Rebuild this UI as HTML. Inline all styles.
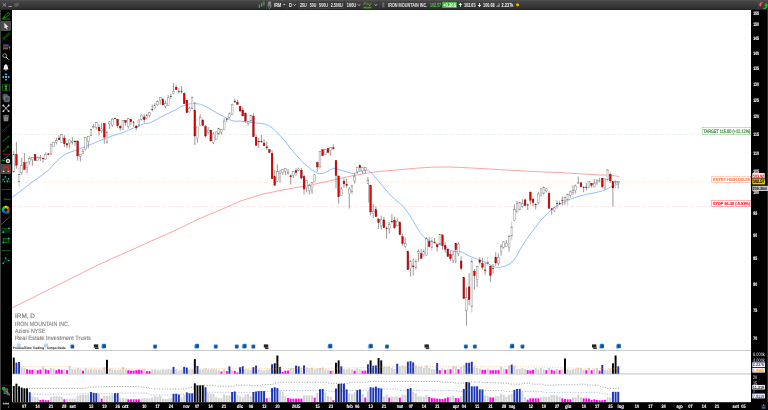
<!DOCTYPE html>
<html lang="it"><head><meta charset="utf-8"><title>IRM, D - IRON MOUNTAIN INC.</title>
<style>html,body{margin:0;padding:0;background:#fff;width:768px;height:410px;overflow:hidden}svg{display:block;position:absolute;left:0;top:0;will-change:transform;opacity:0.999}text{font-family:"Liberation Sans",sans-serif;white-space:pre;text-rendering:geometricPrecision}</style></head>
<body>
<svg width="768" height="410" viewBox="0 0 768 410" font-family='"Liberation Sans", sans-serif'>
<defs><linearGradient id="tb" x1="0" y1="0" x2="0" y2="1"><stop offset="0" stop-color="#545454"/><stop offset="0.14" stop-color="#444"/><stop offset="0.85" stop-color="#2f2f2f"/><stop offset="1" stop-color="#262626"/></linearGradient><linearGradient id="ic" x1="0" y1="0" x2="1" y2="1"><stop offset="0" stop-color="#2f92dc"/><stop offset="1" stop-color="#0a4596"/></linearGradient></defs>
<rect width="768" height="410" fill="#fff"/>
<line x1="12" x2="751" y1="134.4" y2="134.4" stroke="#d6ecd6" stroke-width="0.55" stroke-dasharray="4,2"/>
<line x1="12" x2="751" y1="182.4" y2="182.4" stroke="#ffe0d2" stroke-width="0.55" stroke-dasharray="4,2"/>
<line x1="12" x2="751" y1="206.5" y2="206.5" stroke="#ffd4d4" stroke-width="0.55" stroke-dasharray="4,2"/>
<path d="M12.0,307.9 L32.0,298.0 L53.7,287.1 L75.0,276.5 L95.3,266.2 L116.0,256.8 L137.0,247.5 L158.0,238.0 L178.7,228.8 L199.5,218.6 L220.3,210.0 L241.2,200.8 L262.0,194.2 L282.8,190.0 L303.7,186.2 L320.0,183.0 L335.6,179.5 L351.2,176.0 L366.9,173.2 L380.0,171.3 L396.5,170.0 L415.0,168.3 L432.9,167.1 L451.1,167.0 L469.4,167.9 L488.0,168.9 L505.8,170.0 L524.0,171.0 L542.3,171.9 L560.0,172.6 L578.7,173.7 L597.0,174.8 L610.0,175.3 L616.5,176.0 L619.1,176.8" fill="none" stroke="#ff6464" stroke-width="0.6" stroke-linejoin="round" />
<path d="M12.0,197.4 L20.0,191.5 L32.3,182.0 L40.0,176.6 L47.9,170.7 L55.0,163.0 L62.0,156.5 L67.0,153.3 L72.0,151.6 L77.8,149.6 L84.0,147.2 L91.2,144.2 L97.0,141.8 L103.8,139.1 L110.0,136.6 L116.9,134.4 L120.0,133.6 L125.0,131.5 L130.0,129.7 L135.6,127.1 L140.0,125.3 L144.8,123.6 L149.7,123.0 L155.0,120.3 L160.6,117.0 L166.0,114.5 L171.0,112.0 L176.2,109.6 L180.7,106.8 L185.5,105.0 L189.0,104.0 L192.5,103.4 L195.7,103.6 L200.3,104.2 L205.0,106.1 L211.2,109.7 L217.0,113.0 L223.8,116.7 L229.0,119.5 L233.1,121.0 L237.0,121.2 L240.0,121.0 L247.6,122.1 L254.0,122.7 L259.3,123.3 L264.0,123.9 L268.9,125.4 L273.0,128.6 L279.0,134.4 L284.1,140.0 L288.0,145.0 L291.6,150.0 L293.5,151.7 L298.0,157.0 L302.9,162.7 L305.0,164.3 L308.9,167.5 L312.0,170.0 L315.4,172.0 L318.0,173.4 L321.0,173.5 L324.0,173.2 L328.0,171.3 L333.3,168.3 L337.0,169.2 L343.5,170.9 L348.0,172.3 L352.9,173.6 L357.0,172.6 L360.7,171.0 L364.0,170.0 L366.9,169.7 L370.0,171.7 L373.1,174.8 L376.5,178.6 L380.0,183.0 L385.0,189.0 L391.3,196.0 L397.0,201.0 L403.0,206.2 L407.0,211.5 L410.9,217.1 L414.0,222.5 L417.1,228.0 L420.0,232.3 L423.1,236.4 L426.5,239.2 L430.0,241.0 L436.0,243.4 L442.2,245.4 L446.0,247.0 L450.7,250.7 L455.0,251.3 L460.8,251.6 L465.0,253.7 L469.4,256.1 L475.0,258.3 L480.4,260.2 L484.0,261.8 L488.2,263.7 L491.0,265.4 L494.4,267.0 L497.5,267.3 L500.7,267.2 L504.9,266.1 L509.0,264.3 L513.0,261.3 L517.0,255.5 L521.0,247.9 L525.0,241.8 L529.1,235.8 L533.0,230.4 L537.1,225.0 L541.0,220.2 L545.2,215.6 L550.5,210.5 L555.0,206.9 L561.3,203.3 L566.0,201.2 L572.0,198.4 L580.0,196.0 L588.1,194.0 L595.0,192.7 L601.5,191.2 L606.0,189.4 L609.6,187.6 L613.0,186.0 L617.6,184.2 L619.1,183.7" fill="none" stroke="#5b9bff" stroke-width="0.65" stroke-linejoin="round" />
<line x1="368.63" x2="368.63" y1="183.5" y2="202.5" stroke="#b2b2b2" stroke-width="1"/>
<g id="candles">
<line x1="13.75" x2="13.75" y1="150.80" y2="172.60" stroke="#555" stroke-width="0.6"/>
<rect x="12.83" y="154.70" width="1.84" height="17.20" fill="#fff" stroke="#5a5a5a" stroke-width="0.34"/>
<line x1="16.41" x2="16.41" y1="142.00" y2="168.40" stroke="#555" stroke-width="0.6"/>
<rect x="15.53" y="154.50" width="1.76" height="10.70" fill="#e40000" stroke="#7a0000" stroke-width="0.34"/>
<line x1="19.08" x2="19.08" y1="166.60" y2="187.30" stroke="#bdbdbd" stroke-width="0.8"/>
<rect x="18.20" y="174.50" width="1.76" height="7.00" fill="#e2e2e2" stroke="#a0a0a0" stroke-width="0.26"/>
<line x1="18.13" x2="20.03" y1="174.50" y2="174.50" stroke="#444" stroke-width="0.5"/>
<line x1="18.13" x2="20.03" y1="181.50" y2="181.50" stroke="#444" stroke-width="0.5"/>
<line x1="21.74" x2="21.74" y1="157.80" y2="175.00" stroke="#555" stroke-width="0.6"/>
<rect x="20.82" y="165.60" width="1.84" height="6.70" fill="#fff" stroke="#5a5a5a" stroke-width="0.34"/>
<line x1="24.40" x2="24.40" y1="153.10" y2="169.80" stroke="#555" stroke-width="0.6"/>
<rect x="23.52" y="162.50" width="1.76" height="7.00" fill="#e40000" stroke="#7a0000" stroke-width="0.34"/>
<line x1="27.06" x2="27.06" y1="161.80" y2="173.40" stroke="#555" stroke-width="0.6"/>
<rect x="26.14" y="162.10" width="1.84" height="5.50" fill="#fff" stroke="#5a5a5a" stroke-width="0.34"/>
<line x1="29.73" x2="29.73" y1="156.20" y2="164.50" stroke="#555" stroke-width="0.6"/>
<rect x="28.81" y="158.40" width="1.84" height="3.30" fill="#fff" stroke="#5a5a5a" stroke-width="0.34"/>
<line x1="32.39" x2="32.39" y1="157.00" y2="165.60" stroke="#555" stroke-width="0.6"/>
<rect x="31.47" y="157.40" width="1.84" height="2.40" fill="#fff" stroke="#5a5a5a" stroke-width="0.34"/>
<line x1="35.05" x2="35.05" y1="153.90" y2="160.80" stroke="#555" stroke-width="0.6"/>
<rect x="34.17" y="154.30" width="1.76" height="6.20" fill="#e40000" stroke="#7a0000" stroke-width="0.34"/>
<line x1="37.72" x2="37.72" y1="156.20" y2="160.80" stroke="#555" stroke-width="0.6"/>
<rect x="36.80" y="157.60" width="1.84" height="2.90" fill="#fff" stroke="#5a5a5a" stroke-width="0.34"/>
<line x1="40.38" x2="40.38" y1="155.00" y2="160.90" stroke="#555" stroke-width="0.6"/>
<rect x="39.46" y="157.60" width="1.84" height="0.70" fill="#fff" stroke="#5a5a5a" stroke-width="0.34"/>
<line x1="43.04" x2="43.04" y1="157.60" y2="162.50" stroke="#555" stroke-width="0.6"/>
<rect x="42.09" y="158.00" width="1.9" height="1.00" fill="#b00000"/>
<line x1="45.71" x2="45.71" y1="152.40" y2="159.70" stroke="#555" stroke-width="0.6"/>
<rect x="44.79" y="154.30" width="1.84" height="5.10" fill="#fff" stroke="#5a5a5a" stroke-width="0.34"/>
<line x1="48.37" x2="48.37" y1="153.20" y2="155.20" stroke="#555" stroke-width="0.6"/>
<rect x="47.42" y="153.50" width="1.9" height="1.30" fill="#b00000"/>
<line x1="51.03" x2="51.03" y1="143.80" y2="155.00" stroke="#555" stroke-width="0.6"/>
<rect x="50.11" y="144.10" width="1.84" height="9.80" fill="#fff" stroke="#5a5a5a" stroke-width="0.34"/>
<line x1="53.70" x2="53.70" y1="141.80" y2="146.80" stroke="#555" stroke-width="0.6"/>
<rect x="52.77" y="142.20" width="1.84" height="4.30" fill="#fff" stroke="#5a5a5a" stroke-width="0.34"/>
<line x1="56.36" x2="56.36" y1="137.50" y2="144.50" stroke="#555" stroke-width="0.6"/>
<rect x="55.44" y="140.60" width="1.84" height="1.90" fill="#fff" stroke="#5a5a5a" stroke-width="0.34"/>
<line x1="59.02" x2="59.02" y1="135.10" y2="140.00" stroke="#555" stroke-width="0.6"/>
<rect x="58.14" y="138.10" width="1.76" height="1.70" fill="#e40000" stroke="#7a0000" stroke-width="0.34"/>
<line x1="61.68" x2="61.68" y1="134.00" y2="142.70" stroke="#555" stroke-width="0.6"/>
<rect x="60.76" y="134.70" width="1.84" height="7.70" fill="#fff" stroke="#5a5a5a" stroke-width="0.34"/>
<line x1="64.35" x2="64.35" y1="135.10" y2="146.90" stroke="#555" stroke-width="0.6"/>
<rect x="63.47" y="138.00" width="1.76" height="5.80" fill="#e40000" stroke="#7a0000" stroke-width="0.34"/>
<line x1="67.01" x2="67.01" y1="143.50" y2="148.00" stroke="#555" stroke-width="0.6"/>
<rect x="66.13" y="143.80" width="1.76" height="1.20" fill="#e40000" stroke="#7a0000" stroke-width="0.34"/>
<line x1="69.67" x2="69.67" y1="139.70" y2="148.60" stroke="#555" stroke-width="0.6"/>
<rect x="68.75" y="140.00" width="1.84" height="3.10" fill="#fff" stroke="#5a5a5a" stroke-width="0.34"/>
<line x1="72.34" x2="72.34" y1="137.10" y2="144.50" stroke="#555" stroke-width="0.6"/>
<rect x="71.42" y="141.40" width="1.84" height="0.80" fill="#fff" stroke="#5a5a5a" stroke-width="0.34"/>
<line x1="75.00" x2="75.00" y1="139.90" y2="145.50" stroke="#555" stroke-width="0.6"/>
<rect x="74.05" y="141.00" width="1.9" height="0.80" fill="#111"/>
<line x1="77.66" x2="77.66" y1="140.50" y2="160.60" stroke="#555" stroke-width="0.6"/>
<rect x="76.78" y="141.00" width="1.76" height="14.90" fill="#e40000" stroke="#7a0000" stroke-width="0.34"/>
<line x1="80.32" x2="80.32" y1="154.00" y2="161.70" stroke="#555" stroke-width="0.6"/>
<rect x="79.40" y="154.30" width="1.84" height="2.00" fill="#fff" stroke="#5a5a5a" stroke-width="0.34"/>
<line x1="82.99" x2="82.99" y1="148.80" y2="153.90" stroke="#555" stroke-width="0.6"/>
<rect x="82.07" y="151.20" width="1.84" height="2.30" fill="#fff" stroke="#5a5a5a" stroke-width="0.34"/>
<line x1="85.65" x2="85.65" y1="137.10" y2="150.40" stroke="#555" stroke-width="0.6"/>
<rect x="84.73" y="137.30" width="1.84" height="12.30" fill="#fff" stroke="#5a5a5a" stroke-width="0.34"/>
<line x1="88.31" x2="88.31" y1="136.00" y2="148.50" stroke="#555" stroke-width="0.6"/>
<rect x="87.39" y="136.30" width="1.84" height="5.40" fill="#fff" stroke="#5a5a5a" stroke-width="0.34"/>
<line x1="90.98" x2="90.98" y1="129.00" y2="135.90" stroke="#bdbdbd" stroke-width="0.8"/>
<rect x="90.10" y="129.30" width="1.76" height="6.30" fill="#e2e2e2" stroke="#a0a0a0" stroke-width="0.26"/>
<line x1="90.03" x2="91.93" y1="129.30" y2="129.30" stroke="#444" stroke-width="0.5"/>
<line x1="90.03" x2="91.93" y1="135.60" y2="135.60" stroke="#444" stroke-width="0.5"/>
<line x1="93.64" x2="93.64" y1="123.90" y2="128.50" stroke="#555" stroke-width="0.6"/>
<rect x="92.72" y="126.60" width="1.84" height="0.80" fill="#fff" stroke="#5a5a5a" stroke-width="0.34"/>
<line x1="96.30" x2="96.30" y1="121.90" y2="129.70" stroke="#555" stroke-width="0.6"/>
<rect x="95.38" y="122.70" width="1.84" height="4.70" fill="#fff" stroke="#5a5a5a" stroke-width="0.34"/>
<line x1="98.97" x2="98.97" y1="124.60" y2="135.60" stroke="#555" stroke-width="0.6"/>
<rect x="98.09" y="127.20" width="1.76" height="3.70" fill="#e40000" stroke="#7a0000" stroke-width="0.34"/>
<line x1="101.63" x2="101.63" y1="122.70" y2="132.80" stroke="#555" stroke-width="0.6"/>
<rect x="100.71" y="128.90" width="1.84" height="2.00" fill="#fff" stroke="#5a5a5a" stroke-width="0.34"/>
<line x1="104.29" x2="104.29" y1="123.20" y2="143.80" stroke="#555" stroke-width="0.6"/>
<rect x="103.41" y="123.50" width="1.76" height="13.60" fill="#e40000" stroke="#7a0000" stroke-width="0.34"/>
<line x1="106.95" x2="106.95" y1="131.80" y2="143.80" stroke="#bdbdbd" stroke-width="0.8"/>
<rect x="106.08" y="132.10" width="1.76" height="10.10" fill="#e2e2e2" stroke="#a0a0a0" stroke-width="0.26"/>
<line x1="106.00" x2="107.91" y1="132.10" y2="132.10" stroke="#444" stroke-width="0.5"/>
<line x1="106.00" x2="107.91" y1="142.20" y2="142.20" stroke="#444" stroke-width="0.5"/>
<line x1="109.62" x2="109.62" y1="121.10" y2="128.90" stroke="#555" stroke-width="0.6"/>
<rect x="108.70" y="121.90" width="1.84" height="2.00" fill="#fff" stroke="#5a5a5a" stroke-width="0.34"/>
<line x1="112.28" x2="112.28" y1="118.00" y2="127.00" stroke="#555" stroke-width="0.6"/>
<rect x="111.36" y="119.20" width="1.84" height="5.80" fill="#fff" stroke="#5a5a5a" stroke-width="0.34"/>
<line x1="114.94" x2="114.94" y1="117.50" y2="119.20" stroke="#555" stroke-width="0.6"/>
<rect x="113.99" y="118.00" width="1.9" height="0.80" fill="#b00000"/>
<line x1="117.61" x2="117.61" y1="119.00" y2="128.20" stroke="#555" stroke-width="0.6"/>
<rect x="116.73" y="119.20" width="1.76" height="6.60" fill="#e40000" stroke="#7a0000" stroke-width="0.34"/>
<line x1="120.27" x2="120.27" y1="125.00" y2="130.60" stroke="#555" stroke-width="0.6"/>
<rect x="119.39" y="126.30" width="1.76" height="1.70" fill="#e40000" stroke="#7a0000" stroke-width="0.34"/>
<line x1="122.93" x2="122.93" y1="120.00" y2="130.20" stroke="#555" stroke-width="0.6"/>
<rect x="122.01" y="120.40" width="1.84" height="9.20" fill="#fff" stroke="#5a5a5a" stroke-width="0.34"/>
<line x1="125.60" x2="125.60" y1="120.00" y2="125.60" stroke="#555" stroke-width="0.6"/>
<rect x="124.72" y="120.40" width="1.76" height="2.00" fill="#e40000" stroke="#7a0000" stroke-width="0.34"/>
<line x1="128.26" x2="128.26" y1="118.20" y2="128.50" stroke="#555" stroke-width="0.6"/>
<rect x="127.34" y="118.50" width="1.84" height="8.10" fill="#fff" stroke="#5a5a5a" stroke-width="0.34"/>
<line x1="130.92" x2="130.92" y1="119.30" y2="124.80" stroke="#555" stroke-width="0.6"/>
<rect x="130.04" y="119.50" width="1.76" height="2.30" fill="#e40000" stroke="#7a0000" stroke-width="0.34"/>
<line x1="133.58" x2="133.58" y1="120.90" y2="126.80" stroke="#555" stroke-width="0.6"/>
<rect x="133.08" y="122.00" width="1.0" height="1.60" fill="#fff" stroke="#333" stroke-width="0.4"/>
<line x1="136.25" x2="136.25" y1="124.80" y2="130.30" stroke="#555" stroke-width="0.6"/>
<rect x="135.37" y="126.10" width="1.76" height="1.80" fill="#e40000" stroke="#7a0000" stroke-width="0.34"/>
<line x1="138.91" x2="138.91" y1="119.30" y2="127.10" stroke="#555" stroke-width="0.6"/>
<rect x="137.99" y="120.00" width="1.84" height="4.80" fill="#fff" stroke="#5a5a5a" stroke-width="0.34"/>
<line x1="141.57" x2="141.57" y1="114.30" y2="120.50" stroke="#555" stroke-width="0.6"/>
<rect x="140.65" y="115.00" width="1.84" height="4.30" fill="#fff" stroke="#5a5a5a" stroke-width="0.34"/>
<line x1="144.24" x2="144.24" y1="114.30" y2="122.70" stroke="#555" stroke-width="0.6"/>
<rect x="143.36" y="117.00" width="1.76" height="2.70" fill="#e40000" stroke="#7a0000" stroke-width="0.34"/>
<line x1="146.90" x2="146.90" y1="113.90" y2="118.60" stroke="#555" stroke-width="0.6"/>
<rect x="145.98" y="115.00" width="1.84" height="3.20" fill="#fff" stroke="#5a5a5a" stroke-width="0.34"/>
<line x1="149.56" x2="149.56" y1="112.00" y2="117.40" stroke="#555" stroke-width="0.6"/>
<rect x="148.64" y="112.40" width="1.84" height="3.20" fill="#fff" stroke="#5a5a5a" stroke-width="0.34"/>
<line x1="152.23" x2="152.23" y1="104.50" y2="111.50" stroke="#555" stroke-width="0.6"/>
<rect x="151.28" y="109.00" width="1.9" height="0.80" fill="#b00000"/>
<line x1="154.89" x2="154.89" y1="102.90" y2="109.20" stroke="#555" stroke-width="0.6"/>
<rect x="153.97" y="105.30" width="1.84" height="3.50" fill="#fff" stroke="#5a5a5a" stroke-width="0.34"/>
<line x1="157.55" x2="157.55" y1="100.20" y2="105.70" stroke="#555" stroke-width="0.6"/>
<rect x="156.63" y="101.40" width="1.84" height="3.50" fill="#fff" stroke="#5a5a5a" stroke-width="0.34"/>
<line x1="160.22" x2="160.22" y1="97.10" y2="104.50" stroke="#555" stroke-width="0.6"/>
<rect x="159.30" y="97.50" width="1.84" height="3.10" fill="#fff" stroke="#5a5a5a" stroke-width="0.34"/>
<line x1="162.88" x2="162.88" y1="97.90" y2="105.30" stroke="#555" stroke-width="0.6"/>
<rect x="162.00" y="99.80" width="1.76" height="5.10" fill="#e40000" stroke="#7a0000" stroke-width="0.34"/>
<line x1="165.54" x2="165.54" y1="100.60" y2="108.40" stroke="#555" stroke-width="0.6"/>
<rect x="164.62" y="103.70" width="1.84" height="2.80" fill="#fff" stroke="#5a5a5a" stroke-width="0.34"/>
<line x1="168.20" x2="168.20" y1="95.00" y2="105.80" stroke="#555" stroke-width="0.6"/>
<rect x="167.28" y="97.90" width="1.84" height="7.60" fill="#fff" stroke="#5a5a5a" stroke-width="0.34"/>
<line x1="170.87" x2="170.87" y1="93.40" y2="98.90" stroke="#555" stroke-width="0.6"/>
<rect x="169.92" y="96.20" width="1.9" height="0.60" fill="#111"/>
<line x1="173.53" x2="173.53" y1="83.10" y2="93.90" stroke="#555" stroke-width="0.6"/>
<rect x="172.61" y="91.30" width="1.84" height="2.30" fill="#fff" stroke="#5a5a5a" stroke-width="0.34"/>
<line x1="176.19" x2="176.19" y1="85.00" y2="90.00" stroke="#555" stroke-width="0.6"/>
<rect x="175.31" y="87.20" width="1.76" height="2.50" fill="#e40000" stroke="#7a0000" stroke-width="0.34"/>
<line x1="178.86" x2="178.86" y1="88.20" y2="93.60" stroke="#555" stroke-width="0.6"/>
<rect x="177.91" y="91.10" width="1.9" height="0.60" fill="#111"/>
<line x1="181.52" x2="181.52" y1="86.20" y2="93.60" stroke="#555" stroke-width="0.6"/>
<rect x="180.57" y="91.20" width="1.9" height="0.60" fill="#111"/>
<line x1="184.18" x2="184.18" y1="92.40" y2="104.00" stroke="#555" stroke-width="0.6"/>
<rect x="183.30" y="93.30" width="1.76" height="10.50" fill="#e40000" stroke="#7a0000" stroke-width="0.34"/>
<line x1="186.84" x2="186.84" y1="100.00" y2="113.00" stroke="#555" stroke-width="0.6"/>
<rect x="185.97" y="100.30" width="1.76" height="12.50" fill="#e40000" stroke="#7a0000" stroke-width="0.34"/>
<line x1="189.51" x2="189.51" y1="106.90" y2="112.30" stroke="#555" stroke-width="0.6"/>
<rect x="188.59" y="108.10" width="1.84" height="3.90" fill="#fff" stroke="#5a5a5a" stroke-width="0.34"/>
<line x1="192.17" x2="192.17" y1="96.90" y2="108.50" stroke="#bdbdbd" stroke-width="0.8"/>
<rect x="191.29" y="97.20" width="1.76" height="11.10" fill="#e2e2e2" stroke="#a0a0a0" stroke-width="0.26"/>
<line x1="191.22" x2="193.12" y1="97.20" y2="97.20" stroke="#444" stroke-width="0.5"/>
<line x1="191.22" x2="193.12" y1="108.30" y2="108.30" stroke="#444" stroke-width="0.5"/>
<line x1="194.83" x2="194.83" y1="101.90" y2="145.00" stroke="#555" stroke-width="0.6"/>
<rect x="193.95" y="110.50" width="1.76" height="25.50" fill="#e40000" stroke="#7a0000" stroke-width="0.34"/>
<line x1="197.50" x2="197.50" y1="126.70" y2="142.60" stroke="#555" stroke-width="0.6"/>
<rect x="196.58" y="127.00" width="1.84" height="11.70" fill="#fff" stroke="#5a5a5a" stroke-width="0.34"/>
<line x1="200.16" x2="200.16" y1="114.40" y2="125.90" stroke="#555" stroke-width="0.6"/>
<rect x="199.24" y="117.50" width="1.84" height="8.10" fill="#fff" stroke="#5a5a5a" stroke-width="0.34"/>
<line x1="202.82" x2="202.82" y1="118.70" y2="125.80" stroke="#555" stroke-width="0.6"/>
<rect x="201.94" y="120.20" width="1.76" height="5.30" fill="#e40000" stroke="#7a0000" stroke-width="0.34"/>
<line x1="205.49" x2="205.49" y1="125.00" y2="137.50" stroke="#555" stroke-width="0.6"/>
<rect x="204.61" y="126.70" width="1.76" height="9.30" fill="#e40000" stroke="#7a0000" stroke-width="0.34"/>
<line x1="208.15" x2="208.15" y1="127.00" y2="134.40" stroke="#555" stroke-width="0.6"/>
<rect x="207.23" y="130.10" width="1.84" height="2.40" fill="#fff" stroke="#5a5a5a" stroke-width="0.34"/>
<line x1="210.81" x2="210.81" y1="129.80" y2="141.30" stroke="#555" stroke-width="0.6"/>
<rect x="209.93" y="130.10" width="1.76" height="10.90" fill="#e40000" stroke="#7a0000" stroke-width="0.34"/>
<line x1="213.47" x2="213.47" y1="132.00" y2="144.20" stroke="#555" stroke-width="0.6"/>
<rect x="212.56" y="134.00" width="1.84" height="8.60" fill="#fff" stroke="#5a5a5a" stroke-width="0.34"/>
<line x1="216.14" x2="216.14" y1="131.70" y2="139.80" stroke="#555" stroke-width="0.6"/>
<rect x="215.22" y="132.00" width="1.84" height="7.50" fill="#fff" stroke="#5a5a5a" stroke-width="0.34"/>
<line x1="218.80" x2="218.80" y1="127.80" y2="134.30" stroke="#555" stroke-width="0.6"/>
<rect x="217.88" y="128.50" width="1.84" height="5.50" fill="#fff" stroke="#5a5a5a" stroke-width="0.34"/>
<line x1="221.46" x2="221.46" y1="129.40" y2="134.80" stroke="#555" stroke-width="0.6"/>
<rect x="220.54" y="129.70" width="1.84" height="2.80" fill="#fff" stroke="#5a5a5a" stroke-width="0.34"/>
<line x1="224.13" x2="224.13" y1="118.20" y2="130.00" stroke="#555" stroke-width="0.6"/>
<rect x="223.21" y="121.10" width="1.84" height="8.60" fill="#fff" stroke="#5a5a5a" stroke-width="0.34"/>
<line x1="226.79" x2="226.79" y1="118.00" y2="122.00" stroke="#555" stroke-width="0.6"/>
<rect x="225.84" y="118.80" width="1.9" height="0.60" fill="#111"/>
<line x1="229.45" x2="229.45" y1="112.40" y2="118.70" stroke="#555" stroke-width="0.6"/>
<rect x="228.53" y="114.00" width="1.84" height="3.50" fill="#fff" stroke="#5a5a5a" stroke-width="0.34"/>
<line x1="232.12" x2="232.12" y1="103.90" y2="114.70" stroke="#555" stroke-width="0.6"/>
<rect x="231.20" y="104.20" width="1.84" height="10.20" fill="#fff" stroke="#5a5a5a" stroke-width="0.34"/>
<line x1="234.78" x2="234.78" y1="98.50" y2="102.40" stroke="#555" stroke-width="0.6"/>
<rect x="233.83" y="100.90" width="1.9" height="1.30" fill="#b00000"/>
<line x1="237.44" x2="237.44" y1="99.50" y2="104.70" stroke="#555" stroke-width="0.6"/>
<rect x="236.56" y="102.20" width="1.76" height="2.20" fill="#e40000" stroke="#7a0000" stroke-width="0.34"/>
<line x1="240.10" x2="240.10" y1="106.00" y2="112.40" stroke="#555" stroke-width="0.6"/>
<rect x="239.22" y="106.30" width="1.76" height="4.70" fill="#e40000" stroke="#7a0000" stroke-width="0.34"/>
<line x1="242.77" x2="242.77" y1="107.30" y2="116.10" stroke="#555" stroke-width="0.6"/>
<rect x="241.89" y="110.00" width="1.76" height="5.90" fill="#e40000" stroke="#7a0000" stroke-width="0.34"/>
<line x1="245.43" x2="245.43" y1="112.40" y2="122.90" stroke="#555" stroke-width="0.6"/>
<rect x="244.55" y="113.10" width="1.76" height="7.90" fill="#e40000" stroke="#7a0000" stroke-width="0.34"/>
<line x1="248.09" x2="248.09" y1="121.00" y2="125.80" stroke="#555" stroke-width="0.6"/>
<rect x="247.17" y="121.60" width="1.84" height="1.80" fill="#fff" stroke="#5a5a5a" stroke-width="0.34"/>
<line x1="250.76" x2="250.76" y1="115.20" y2="121.30" stroke="#bdbdbd" stroke-width="0.8"/>
<rect x="249.88" y="115.50" width="1.76" height="5.50" fill="#e2e2e2" stroke="#a0a0a0" stroke-width="0.26"/>
<line x1="249.81" x2="251.71" y1="115.50" y2="115.50" stroke="#444" stroke-width="0.5"/>
<line x1="249.81" x2="251.71" y1="121.00" y2="121.00" stroke="#444" stroke-width="0.5"/>
<line x1="253.42" x2="253.42" y1="113.10" y2="137.00" stroke="#555" stroke-width="0.6"/>
<rect x="252.54" y="116.30" width="1.76" height="20.50" fill="#e40000" stroke="#7a0000" stroke-width="0.34"/>
<line x1="256.08" x2="256.08" y1="134.40" y2="145.60" stroke="#555" stroke-width="0.6"/>
<rect x="255.20" y="137.10" width="1.76" height="8.30" fill="#e40000" stroke="#7a0000" stroke-width="0.34"/>
<line x1="258.75" x2="258.75" y1="137.90" y2="148.00" stroke="#555" stroke-width="0.6"/>
<rect x="257.80" y="141.00" width="1.9" height="0.80" fill="#111"/>
<line x1="261.41" x2="261.41" y1="134.80" y2="143.00" stroke="#555" stroke-width="0.6"/>
<rect x="260.46" y="141.00" width="1.9" height="0.80" fill="#111"/>
<line x1="264.07" x2="264.07" y1="139.10" y2="146.10" stroke="#555" stroke-width="0.6"/>
<rect x="263.19" y="143.00" width="1.76" height="2.80" fill="#e40000" stroke="#7a0000" stroke-width="0.34"/>
<line x1="266.74" x2="266.74" y1="141.30" y2="149.90" stroke="#555" stroke-width="0.6"/>
<rect x="265.79" y="146.50" width="1.9" height="1.60" fill="#b00000"/>
<line x1="269.40" x2="269.40" y1="149.00" y2="153.50" stroke="#555" stroke-width="0.6"/>
<rect x="268.52" y="149.80" width="1.76" height="2.70" fill="#e40000" stroke="#7a0000" stroke-width="0.34"/>
<line x1="272.06" x2="272.06" y1="150.20" y2="179.00" stroke="#555" stroke-width="0.6"/>
<rect x="271.18" y="153.30" width="1.76" height="25.50" fill="#e40000" stroke="#7a0000" stroke-width="0.34"/>
<line x1="274.72" x2="274.72" y1="170.20" y2="185.70" stroke="#555" stroke-width="0.6"/>
<rect x="273.84" y="176.80" width="1.76" height="8.60" fill="#e40000" stroke="#7a0000" stroke-width="0.34"/>
<line x1="277.39" x2="277.39" y1="164.30" y2="181.80" stroke="#555" stroke-width="0.6"/>
<rect x="276.47" y="171.80" width="1.84" height="9.70" fill="#fff" stroke="#5a5a5a" stroke-width="0.34"/>
<line x1="280.05" x2="280.05" y1="170.50" y2="182.70" stroke="#555" stroke-width="0.6"/>
<rect x="279.13" y="171.00" width="1.84" height="2.70" fill="#fff" stroke="#5a5a5a" stroke-width="0.34"/>
<line x1="282.71" x2="282.71" y1="169.10" y2="175.00" stroke="#555" stroke-width="0.6"/>
<rect x="281.79" y="169.40" width="1.84" height="3.10" fill="#fff" stroke="#5a5a5a" stroke-width="0.34"/>
<line x1="285.38" x2="285.38" y1="168.30" y2="175.30" stroke="#555" stroke-width="0.6"/>
<rect x="284.46" y="168.60" width="1.84" height="2.80" fill="#fff" stroke="#5a5a5a" stroke-width="0.34"/>
<line x1="288.04" x2="288.04" y1="169.00" y2="174.90" stroke="#555" stroke-width="0.6"/>
<rect x="287.12" y="172.50" width="1.84" height="1.20" fill="#fff" stroke="#5a5a5a" stroke-width="0.34"/>
<line x1="290.70" x2="290.70" y1="174.50" y2="184.70" stroke="#555" stroke-width="0.6"/>
<rect x="289.75" y="175.40" width="1.9" height="1.60" fill="#b00000"/>
<line x1="293.36" x2="293.36" y1="171.10" y2="178.00" stroke="#555" stroke-width="0.6"/>
<rect x="292.44" y="171.40" width="1.84" height="3.90" fill="#fff" stroke="#5a5a5a" stroke-width="0.34"/>
<line x1="296.03" x2="296.03" y1="168.25" y2="175.70" stroke="#555" stroke-width="0.6"/>
<rect x="295.15" y="170.75" width="1.76" height="1.75" fill="#e40000" stroke="#7a0000" stroke-width="0.34"/>
<line x1="298.69" x2="298.69" y1="167.50" y2="171.40" stroke="#555" stroke-width="0.6"/>
<rect x="297.77" y="169.00" width="1.84" height="1.20" fill="#fff" stroke="#5a5a5a" stroke-width="0.34"/>
<line x1="301.35" x2="301.35" y1="167.90" y2="179.60" stroke="#555" stroke-width="0.6"/>
<rect x="300.47" y="170.20" width="1.76" height="7.80" fill="#e40000" stroke="#7a0000" stroke-width="0.34"/>
<line x1="304.02" x2="304.02" y1="174.50" y2="194.50" stroke="#555" stroke-width="0.6"/>
<rect x="303.14" y="176.50" width="1.76" height="12.50" fill="#e40000" stroke="#7a0000" stroke-width="0.34"/>
<line x1="306.68" x2="306.68" y1="180.10" y2="192.50" stroke="#555" stroke-width="0.6"/>
<rect x="305.76" y="180.40" width="1.84" height="7.40" fill="#fff" stroke="#5a5a5a" stroke-width="0.34"/>
<line x1="309.34" x2="309.34" y1="183.90" y2="194.50" stroke="#555" stroke-width="0.6"/>
<rect x="308.42" y="185.80" width="1.84" height="4.70" fill="#fff" stroke="#5a5a5a" stroke-width="0.34"/>
<line x1="312.01" x2="312.01" y1="182.40" y2="194.00" stroke="#555" stroke-width="0.6"/>
<rect x="311.09" y="182.70" width="1.84" height="7.80" fill="#fff" stroke="#5a5a5a" stroke-width="0.34"/>
<line x1="314.67" x2="314.67" y1="174.10" y2="181.80" stroke="#555" stroke-width="0.6"/>
<rect x="313.75" y="174.90" width="1.84" height="6.60" fill="#fff" stroke="#5a5a5a" stroke-width="0.34"/>
<line x1="317.33" x2="317.33" y1="161.50" y2="171.70" stroke="#555" stroke-width="0.6"/>
<rect x="316.45" y="162.50" width="1.76" height="4.50" fill="#e40000" stroke="#7a0000" stroke-width="0.34"/>
<line x1="320.00" x2="320.00" y1="151.10" y2="168.40" stroke="#555" stroke-width="0.6"/>
<rect x="319.07" y="151.40" width="1.84" height="14.80" fill="#fff" stroke="#5a5a5a" stroke-width="0.34"/>
<line x1="322.66" x2="322.66" y1="149.40" y2="156.00" stroke="#555" stroke-width="0.6"/>
<rect x="321.78" y="149.80" width="1.76" height="5.90" fill="#e40000" stroke="#7a0000" stroke-width="0.34"/>
<line x1="325.32" x2="325.32" y1="149.10" y2="154.80" stroke="#555" stroke-width="0.6"/>
<rect x="324.40" y="149.40" width="1.84" height="5.10" fill="#fff" stroke="#5a5a5a" stroke-width="0.34"/>
<line x1="327.98" x2="327.98" y1="148.30" y2="152.80" stroke="#555" stroke-width="0.6"/>
<rect x="327.10" y="148.60" width="1.76" height="3.90" fill="#e40000" stroke="#7a0000" stroke-width="0.34"/>
<line x1="330.65" x2="330.65" y1="147.20" y2="155.70" stroke="#555" stroke-width="0.6"/>
<rect x="329.73" y="147.50" width="1.84" height="3.10" fill="#fff" stroke="#5a5a5a" stroke-width="0.34"/>
<line x1="333.31" x2="333.31" y1="144.30" y2="149.80" stroke="#555" stroke-width="0.6"/>
<rect x="332.36" y="147.30" width="1.9" height="1.60" fill="#b00000"/>
<line x1="335.97" x2="335.97" y1="160.00" y2="188.40" stroke="#555" stroke-width="0.6"/>
<rect x="335.09" y="160.70" width="1.76" height="14.90" fill="#e40000" stroke="#7a0000" stroke-width="0.34"/>
<line x1="338.64" x2="338.64" y1="175.50" y2="203.80" stroke="#555" stroke-width="0.6"/>
<rect x="337.76" y="176.00" width="1.76" height="20.80" fill="#e40000" stroke="#7a0000" stroke-width="0.34"/>
<line x1="341.30" x2="341.30" y1="187.00" y2="195.90" stroke="#555" stroke-width="0.6"/>
<rect x="340.38" y="189.00" width="1.84" height="6.60" fill="#fff" stroke="#5a5a5a" stroke-width="0.34"/>
<line x1="343.96" x2="343.96" y1="178.30" y2="187.80" stroke="#555" stroke-width="0.6"/>
<rect x="343.08" y="181.10" width="1.76" height="2.80" fill="#e40000" stroke="#7a0000" stroke-width="0.34"/>
<line x1="346.62" x2="346.62" y1="178.70" y2="187.70" stroke="#555" stroke-width="0.6"/>
<rect x="345.68" y="184.00" width="1.9" height="1.60" fill="#b00000"/>
<line x1="349.29" x2="349.29" y1="187.00" y2="208.50" stroke="#555" stroke-width="0.6"/>
<rect x="348.37" y="189.00" width="1.84" height="4.70" fill="#fff" stroke="#5a5a5a" stroke-width="0.34"/>
<line x1="351.95" x2="351.95" y1="185.60" y2="194.50" stroke="#bdbdbd" stroke-width="0.8"/>
<rect x="351.07" y="185.90" width="1.76" height="5.80" fill="#e2e2e2" stroke="#a0a0a0" stroke-width="0.26"/>
<line x1="351.00" x2="352.90" y1="185.90" y2="185.90" stroke="#444" stroke-width="0.5"/>
<line x1="351.00" x2="352.90" y1="191.70" y2="191.70" stroke="#444" stroke-width="0.5"/>
<line x1="354.61" x2="354.61" y1="173.20" y2="183.70" stroke="#555" stroke-width="0.6"/>
<rect x="353.69" y="176.40" width="1.84" height="4.60" fill="#fff" stroke="#5a5a5a" stroke-width="0.34"/>
<line x1="357.28" x2="357.28" y1="166.50" y2="173.60" stroke="#555" stroke-width="0.6"/>
<rect x="356.36" y="167.20" width="1.84" height="4.30" fill="#fff" stroke="#5a5a5a" stroke-width="0.34"/>
<line x1="359.94" x2="359.94" y1="164.30" y2="171.00" stroke="#555" stroke-width="0.6"/>
<rect x="359.06" y="165.80" width="1.76" height="2.00" fill="#e40000" stroke="#7a0000" stroke-width="0.34"/>
<line x1="362.60" x2="362.60" y1="167.10" y2="174.00" stroke="#555" stroke-width="0.6"/>
<rect x="361.68" y="167.40" width="1.84" height="3.60" fill="#fff" stroke="#5a5a5a" stroke-width="0.34"/>
<line x1="365.27" x2="365.27" y1="167.10" y2="173.60" stroke="#555" stroke-width="0.6"/>
<rect x="364.35" y="167.40" width="1.84" height="2.70" fill="#fff" stroke="#5a5a5a" stroke-width="0.34"/>
<line x1="367.93" x2="367.93" y1="177.10" y2="184.20" stroke="#555" stroke-width="0.6"/>
<rect x="367.01" y="180.70" width="1.84" height="2.60" fill="#fff" stroke="#5a5a5a" stroke-width="0.34"/>
<line x1="370.59" x2="370.59" y1="184.50" y2="215.50" stroke="#555" stroke-width="0.6"/>
<rect x="369.71" y="185.20" width="1.76" height="26.80" fill="#e40000" stroke="#7a0000" stroke-width="0.34"/>
<line x1="373.25" x2="373.25" y1="204.20" y2="217.90" stroke="#555" stroke-width="0.6"/>
<rect x="372.33" y="211.20" width="1.84" height="2.40" fill="#fff" stroke="#5a5a5a" stroke-width="0.34"/>
<line x1="375.92" x2="375.92" y1="206.20" y2="217.00" stroke="#555" stroke-width="0.6"/>
<rect x="375.04" y="209.70" width="1.76" height="7.00" fill="#e40000" stroke="#7a0000" stroke-width="0.34"/>
<line x1="378.58" x2="378.58" y1="218.50" y2="229.00" stroke="#555" stroke-width="0.6"/>
<rect x="377.70" y="219.00" width="1.76" height="3.50" fill="#e40000" stroke="#7a0000" stroke-width="0.34"/>
<line x1="381.24" x2="381.24" y1="215.50" y2="229.70" stroke="#555" stroke-width="0.6"/>
<rect x="380.32" y="220.00" width="1.84" height="6.00" fill="#fff" stroke="#5a5a5a" stroke-width="0.34"/>
<line x1="383.91" x2="383.91" y1="216.70" y2="228.00" stroke="#555" stroke-width="0.6"/>
<rect x="383.03" y="219.90" width="1.76" height="7.90" fill="#e40000" stroke="#7a0000" stroke-width="0.34"/>
<line x1="386.57" x2="386.57" y1="226.60" y2="238.70" stroke="#555" stroke-width="0.6"/>
<rect x="385.62" y="228.00" width="1.9" height="0.80" fill="#b00000"/>
<line x1="389.23" x2="389.23" y1="221.90" y2="233.60" stroke="#555" stroke-width="0.6"/>
<rect x="388.31" y="224.70" width="1.84" height="3.80" fill="#fff" stroke="#5a5a5a" stroke-width="0.34"/>
<line x1="391.90" x2="391.90" y1="214.00" y2="223.40" stroke="#555" stroke-width="0.6"/>
<rect x="390.95" y="221.00" width="1.9" height="0.80" fill="#111"/>
<line x1="394.56" x2="394.56" y1="216.70" y2="229.00" stroke="#555" stroke-width="0.6"/>
<rect x="393.68" y="220.20" width="1.76" height="7.60" fill="#e40000" stroke="#7a0000" stroke-width="0.34"/>
<line x1="397.22" x2="397.22" y1="218.20" y2="226.20" stroke="#555" stroke-width="0.6"/>
<rect x="396.30" y="221.40" width="1.84" height="4.50" fill="#fff" stroke="#5a5a5a" stroke-width="0.34"/>
<line x1="399.88" x2="399.88" y1="221.40" y2="235.00" stroke="#555" stroke-width="0.6"/>
<rect x="399.00" y="222.40" width="1.76" height="12.40" fill="#e40000" stroke="#7a0000" stroke-width="0.34"/>
<line x1="402.55" x2="402.55" y1="233.60" y2="245.70" stroke="#555" stroke-width="0.6"/>
<rect x="401.67" y="236.80" width="1.76" height="6.80" fill="#e40000" stroke="#7a0000" stroke-width="0.34"/>
<line x1="405.21" x2="405.21" y1="237.50" y2="248.50" stroke="#555" stroke-width="0.6"/>
<rect x="404.29" y="243.40" width="1.84" height="3.10" fill="#fff" stroke="#5a5a5a" stroke-width="0.34"/>
<line x1="407.87" x2="407.87" y1="250.80" y2="270.00" stroke="#555" stroke-width="0.6"/>
<rect x="406.99" y="251.50" width="1.76" height="18.30" fill="#e40000" stroke="#7a0000" stroke-width="0.34"/>
<line x1="410.54" x2="410.54" y1="260.00" y2="276.50" stroke="#555" stroke-width="0.6"/>
<rect x="409.62" y="261.40" width="1.84" height="7.30" fill="#fff" stroke="#5a5a5a" stroke-width="0.34"/>
<line x1="413.20" x2="413.20" y1="258.20" y2="275.70" stroke="#555" stroke-width="0.6"/>
<rect x="412.25" y="265.60" width="1.9" height="1.40" fill="#b00000"/>
<line x1="415.86" x2="415.86" y1="258.50" y2="270.20" stroke="#bdbdbd" stroke-width="0.8"/>
<rect x="414.98" y="261.20" width="1.76" height="6.30" fill="#e2e2e2" stroke="#a0a0a0" stroke-width="0.26"/>
<line x1="414.91" x2="416.81" y1="261.20" y2="261.20" stroke="#444" stroke-width="0.5"/>
<line x1="414.91" x2="416.81" y1="267.50" y2="267.50" stroke="#444" stroke-width="0.5"/>
<line x1="418.53" x2="418.53" y1="249.40" y2="261.70" stroke="#555" stroke-width="0.6"/>
<rect x="417.61" y="251.80" width="1.84" height="1.70" fill="#fff" stroke="#5a5a5a" stroke-width="0.34"/>
<line x1="421.19" x2="421.19" y1="249.30" y2="258.80" stroke="#555" stroke-width="0.6"/>
<rect x="420.31" y="253.70" width="1.76" height="4.90" fill="#e40000" stroke="#7a0000" stroke-width="0.34"/>
<line x1="423.85" x2="423.85" y1="249.30" y2="256.70" stroke="#555" stroke-width="0.6"/>
<rect x="422.93" y="251.30" width="1.84" height="3.40" fill="#fff" stroke="#5a5a5a" stroke-width="0.34"/>
<line x1="426.51" x2="426.51" y1="237.20" y2="255.90" stroke="#555" stroke-width="0.6"/>
<rect x="425.59" y="238.80" width="1.84" height="16.80" fill="#fff" stroke="#5a5a5a" stroke-width="0.34"/>
<line x1="429.18" x2="429.18" y1="237.20" y2="247.30" stroke="#555" stroke-width="0.6"/>
<rect x="428.30" y="241.50" width="1.76" height="5.00" fill="#e40000" stroke="#7a0000" stroke-width="0.34"/>
<line x1="431.84" x2="431.84" y1="237.20" y2="250.80" stroke="#bdbdbd" stroke-width="0.8"/>
<rect x="430.96" y="241.00" width="1.76" height="6.30" fill="#e2e2e2" stroke="#a0a0a0" stroke-width="0.26"/>
<line x1="430.89" x2="432.79" y1="241.00" y2="241.00" stroke="#444" stroke-width="0.5"/>
<line x1="430.89" x2="432.79" y1="247.30" y2="247.30" stroke="#444" stroke-width="0.5"/>
<line x1="434.50" x2="434.50" y1="238.00" y2="243.20" stroke="#555" stroke-width="0.6"/>
<rect x="433.55" y="241.90" width="1.9" height="1.10" fill="#b00000"/>
<line x1="437.17" x2="437.17" y1="244.00" y2="251.60" stroke="#555" stroke-width="0.6"/>
<rect x="436.29" y="244.80" width="1.76" height="2.10" fill="#e40000" stroke="#7a0000" stroke-width="0.34"/>
<line x1="439.83" x2="439.83" y1="233.70" y2="244.10" stroke="#bdbdbd" stroke-width="0.8"/>
<rect x="438.95" y="234.50" width="1.76" height="9.40" fill="#e2e2e2" stroke="#a0a0a0" stroke-width="0.26"/>
<line x1="438.88" x2="440.78" y1="234.50" y2="234.50" stroke="#444" stroke-width="0.5"/>
<line x1="438.88" x2="440.78" y1="243.90" y2="243.90" stroke="#444" stroke-width="0.5"/>
<line x1="442.49" x2="442.49" y1="234.50" y2="249.70" stroke="#555" stroke-width="0.6"/>
<rect x="441.61" y="234.90" width="1.76" height="10.50" fill="#e40000" stroke="#7a0000" stroke-width="0.34"/>
<line x1="445.16" x2="445.16" y1="242.00" y2="252.80" stroke="#555" stroke-width="0.6"/>
<rect x="444.28" y="245.40" width="1.76" height="3.90" fill="#e40000" stroke="#7a0000" stroke-width="0.34"/>
<line x1="447.82" x2="447.82" y1="248.80" y2="256.80" stroke="#555" stroke-width="0.6"/>
<rect x="446.94" y="249.10" width="1.76" height="7.50" fill="#e40000" stroke="#7a0000" stroke-width="0.34"/>
<line x1="450.48" x2="450.48" y1="250.80" y2="261.00" stroke="#555" stroke-width="0.6"/>
<rect x="449.60" y="254.40" width="1.76" height="4.30" fill="#e40000" stroke="#7a0000" stroke-width="0.34"/>
<line x1="453.14" x2="453.14" y1="250.80" y2="263.20" stroke="#555" stroke-width="0.6"/>
<rect x="452.22" y="254.40" width="1.84" height="6.00" fill="#fff" stroke="#5a5a5a" stroke-width="0.34"/>
<line x1="455.81" x2="455.81" y1="243.00" y2="263.20" stroke="#555" stroke-width="0.6"/>
<rect x="454.93" y="243.20" width="1.76" height="6.60" fill="#e40000" stroke="#7a0000" stroke-width="0.34"/>
<line x1="458.47" x2="458.47" y1="242.40" y2="256.20" stroke="#555" stroke-width="0.6"/>
<rect x="457.55" y="244.10" width="1.84" height="9.40" fill="#fff" stroke="#5a5a5a" stroke-width="0.34"/>
<line x1="461.13" x2="461.13" y1="256.30" y2="270.75" stroke="#555" stroke-width="0.6"/>
<rect x="460.25" y="261.00" width="1.76" height="7.40" fill="#e40000" stroke="#7a0000" stroke-width="0.34"/>
<line x1="463.80" x2="463.80" y1="277.00" y2="298.90" stroke="#555" stroke-width="0.6"/>
<rect x="462.92" y="277.50" width="1.76" height="21.20" fill="#e40000" stroke="#7a0000" stroke-width="0.34"/>
<line x1="466.46" x2="466.46" y1="287.30" y2="325.70" stroke="#555" stroke-width="0.6"/>
<rect x="465.54" y="297.50" width="1.84" height="12.60" fill="#fff" stroke="#5a5a5a" stroke-width="0.34"/>
<line x1="469.12" x2="469.12" y1="273.10" y2="305.40" stroke="#555" stroke-width="0.6"/>
<rect x="468.24" y="286.90" width="1.76" height="12.90" fill="#e40000" stroke="#7a0000" stroke-width="0.34"/>
<line x1="471.79" x2="471.79" y1="257.90" y2="312.50" stroke="#bdbdbd" stroke-width="0.8"/>
<rect x="470.91" y="261.40" width="1.76" height="44.90" fill="#e2e2e2" stroke="#a0a0a0" stroke-width="0.26"/>
<line x1="470.84" x2="472.74" y1="261.40" y2="261.40" stroke="#444" stroke-width="0.5"/>
<line x1="470.84" x2="472.74" y1="306.30" y2="306.30" stroke="#444" stroke-width="0.5"/>
<line x1="474.45" x2="474.45" y1="269.00" y2="289.70" stroke="#555" stroke-width="0.6"/>
<rect x="473.57" y="271.10" width="1.76" height="4.70" fill="#e40000" stroke="#7a0000" stroke-width="0.34"/>
<line x1="477.11" x2="477.11" y1="266.00" y2="286.90" stroke="#555" stroke-width="0.6"/>
<rect x="476.19" y="266.50" width="1.84" height="12.90" fill="#fff" stroke="#5a5a5a" stroke-width="0.34"/>
<line x1="479.77" x2="479.77" y1="257.10" y2="264.50" stroke="#555" stroke-width="0.6"/>
<rect x="478.89" y="260.20" width="1.76" height="2.00" fill="#e40000" stroke="#7a0000" stroke-width="0.34"/>
<line x1="482.44" x2="482.44" y1="257.90" y2="269.60" stroke="#555" stroke-width="0.6"/>
<rect x="481.56" y="263.30" width="1.76" height="3.90" fill="#e40000" stroke="#7a0000" stroke-width="0.34"/>
<line x1="485.10" x2="485.10" y1="262.50" y2="274.70" stroke="#555" stroke-width="0.6"/>
<rect x="484.15" y="269.60" width="1.9" height="1.15" fill="#b00000"/>
<line x1="487.76" x2="487.76" y1="257.10" y2="265.70" stroke="#bdbdbd" stroke-width="0.8"/>
<rect x="486.88" y="262.50" width="1.76" height="1.00" fill="#e2e2e2" stroke="#a0a0a0" stroke-width="0.26"/>
<line x1="486.81" x2="488.71" y1="262.50" y2="262.50" stroke="#444" stroke-width="0.5"/>
<line x1="486.81" x2="488.71" y1="263.50" y2="263.50" stroke="#444" stroke-width="0.5"/>
<line x1="490.43" x2="490.43" y1="265.50" y2="281.80" stroke="#555" stroke-width="0.6"/>
<rect x="489.55" y="266.10" width="1.76" height="9.30" fill="#e40000" stroke="#7a0000" stroke-width="0.34"/>
<line x1="493.09" x2="493.09" y1="264.10" y2="273.50" stroke="#555" stroke-width="0.6"/>
<rect x="492.14" y="268.00" width="1.9" height="0.60" fill="#111"/>
<line x1="495.75" x2="495.75" y1="252.20" y2="265.70" stroke="#555" stroke-width="0.6"/>
<rect x="494.87" y="257.40" width="1.76" height="5.50" fill="#e40000" stroke="#7a0000" stroke-width="0.34"/>
<line x1="498.42" x2="498.42" y1="253.50" y2="265.70" stroke="#555" stroke-width="0.6"/>
<rect x="497.50" y="257.40" width="1.84" height="5.90" fill="#fff" stroke="#5a5a5a" stroke-width="0.34"/>
<line x1="501.08" x2="501.08" y1="244.20" y2="255.60" stroke="#555" stroke-width="0.6"/>
<rect x="500.16" y="246.30" width="1.84" height="5.20" fill="#fff" stroke="#5a5a5a" stroke-width="0.34"/>
<line x1="503.74" x2="503.74" y1="241.00" y2="248.60" stroke="#555" stroke-width="0.6"/>
<rect x="502.82" y="242.00" width="1.84" height="5.10" fill="#fff" stroke="#5a5a5a" stroke-width="0.34"/>
<line x1="506.40" x2="506.40" y1="240.00" y2="246.90" stroke="#555" stroke-width="0.6"/>
<rect x="505.48" y="243.10" width="1.84" height="3.50" fill="#fff" stroke="#5a5a5a" stroke-width="0.34"/>
<line x1="509.07" x2="509.07" y1="234.90" y2="251.70" stroke="#555" stroke-width="0.6"/>
<rect x="508.15" y="236.80" width="1.84" height="10.60" fill="#fff" stroke="#5a5a5a" stroke-width="0.34"/>
<line x1="511.73" x2="511.73" y1="221.30" y2="240.40" stroke="#bdbdbd" stroke-width="0.8"/>
<rect x="510.85" y="227.10" width="1.76" height="8.60" fill="#e2e2e2" stroke="#a0a0a0" stroke-width="0.26"/>
<line x1="510.78" x2="512.68" y1="227.10" y2="227.10" stroke="#444" stroke-width="0.5"/>
<line x1="510.78" x2="512.68" y1="235.70" y2="235.70" stroke="#444" stroke-width="0.5"/>
<line x1="514.39" x2="514.39" y1="204.20" y2="220.90" stroke="#555" stroke-width="0.6"/>
<rect x="513.47" y="209.60" width="1.84" height="11.00" fill="#fff" stroke="#5a5a5a" stroke-width="0.34"/>
<line x1="517.06" x2="517.06" y1="201.00" y2="212.30" stroke="#555" stroke-width="0.6"/>
<rect x="516.14" y="203.40" width="1.84" height="8.60" fill="#fff" stroke="#5a5a5a" stroke-width="0.34"/>
<line x1="519.72" x2="519.72" y1="202.30" y2="209.90" stroke="#bdbdbd" stroke-width="0.8"/>
<rect x="518.84" y="202.60" width="1.76" height="7.00" fill="#e2e2e2" stroke="#a0a0a0" stroke-width="0.26"/>
<line x1="518.77" x2="520.67" y1="202.60" y2="202.60" stroke="#444" stroke-width="0.5"/>
<line x1="518.77" x2="520.67" y1="209.60" y2="209.60" stroke="#444" stroke-width="0.5"/>
<line x1="522.38" x2="522.38" y1="199.30" y2="207.70" stroke="#555" stroke-width="0.6"/>
<rect x="521.46" y="203.80" width="1.84" height="2.30" fill="#fff" stroke="#5a5a5a" stroke-width="0.34"/>
<line x1="525.05" x2="525.05" y1="198.70" y2="205.90" stroke="#555" stroke-width="0.6"/>
<rect x="524.17" y="199.90" width="1.76" height="5.80" fill="#e40000" stroke="#7a0000" stroke-width="0.34"/>
<line x1="527.71" x2="527.71" y1="203.60" y2="210.00" stroke="#555" stroke-width="0.6"/>
<rect x="526.76" y="204.50" width="1.9" height="0.80" fill="#111"/>
<line x1="530.37" x2="530.37" y1="191.50" y2="204.60" stroke="#555" stroke-width="0.6"/>
<rect x="529.49" y="192.10" width="1.76" height="8.20" fill="#e40000" stroke="#7a0000" stroke-width="0.34"/>
<line x1="533.03" x2="533.03" y1="197.90" y2="206.50" stroke="#555" stroke-width="0.6"/>
<rect x="532.15" y="199.10" width="1.76" height="3.50" fill="#e40000" stroke="#7a0000" stroke-width="0.34"/>
<line x1="535.70" x2="535.70" y1="203.40" y2="209.60" stroke="#555" stroke-width="0.6"/>
<rect x="534.75" y="204.00" width="1.9" height="0.80" fill="#111"/>
<line x1="538.36" x2="538.36" y1="192.10" y2="204.60" stroke="#555" stroke-width="0.6"/>
<rect x="537.44" y="194.00" width="1.84" height="8.20" fill="#fff" stroke="#5a5a5a" stroke-width="0.34"/>
<line x1="541.02" x2="541.02" y1="188.20" y2="196.75" stroke="#555" stroke-width="0.6"/>
<rect x="540.10" y="188.90" width="1.84" height="3.90" fill="#fff" stroke="#5a5a5a" stroke-width="0.34"/>
<line x1="543.69" x2="543.69" y1="186.20" y2="195.60" stroke="#bdbdbd" stroke-width="0.8"/>
<rect x="542.81" y="187.40" width="1.76" height="5.80" fill="#e2e2e2" stroke="#a0a0a0" stroke-width="0.26"/>
<line x1="542.74" x2="544.64" y1="187.40" y2="187.40" stroke="#444" stroke-width="0.5"/>
<line x1="542.74" x2="544.64" y1="193.20" y2="193.20" stroke="#444" stroke-width="0.5"/>
<line x1="546.35" x2="546.35" y1="188.20" y2="192.50" stroke="#555" stroke-width="0.6"/>
<rect x="545.43" y="188.90" width="1.84" height="2.00" fill="#fff" stroke="#5a5a5a" stroke-width="0.34"/>
<line x1="549.01" x2="549.01" y1="191.30" y2="208.50" stroke="#555" stroke-width="0.6"/>
<rect x="548.13" y="193.20" width="1.76" height="15.10" fill="#e40000" stroke="#7a0000" stroke-width="0.34"/>
<line x1="551.68" x2="551.68" y1="208.10" y2="214.70" stroke="#555" stroke-width="0.6"/>
<rect x="550.73" y="208.40" width="1.9" height="1.30" fill="#b00000"/>
<line x1="554.34" x2="554.34" y1="206.90" y2="212.40" stroke="#555" stroke-width="0.6"/>
<rect x="553.42" y="208.00" width="1.84" height="2.80" fill="#fff" stroke="#5a5a5a" stroke-width="0.34"/>
<line x1="557.00" x2="557.00" y1="200.25" y2="208.50" stroke="#555" stroke-width="0.6"/>
<rect x="556.05" y="203.10" width="1.9" height="0.70" fill="#111"/>
<line x1="559.66" x2="559.66" y1="200.80" y2="205.00" stroke="#555" stroke-width="0.6"/>
<rect x="558.71" y="203.10" width="1.9" height="0.70" fill="#111"/>
<line x1="562.33" x2="562.33" y1="196.30" y2="205.50" stroke="#555" stroke-width="0.6"/>
<rect x="561.38" y="200.20" width="1.9" height="0.80" fill="#b00000"/>
<line x1="564.99" x2="564.99" y1="196.40" y2="205.00" stroke="#555" stroke-width="0.6"/>
<rect x="564.07" y="197.50" width="1.84" height="3.20" fill="#fff" stroke="#5a5a5a" stroke-width="0.34"/>
<line x1="567.65" x2="567.65" y1="193.60" y2="205.70" stroke="#bdbdbd" stroke-width="0.8"/>
<rect x="566.77" y="194.30" width="1.76" height="5.30" fill="#e2e2e2" stroke="#a0a0a0" stroke-width="0.26"/>
<line x1="566.70" x2="568.60" y1="194.30" y2="194.30" stroke="#444" stroke-width="0.5"/>
<line x1="566.70" x2="568.60" y1="199.60" y2="199.60" stroke="#444" stroke-width="0.5"/>
<line x1="570.32" x2="570.32" y1="190.70" y2="197.70" stroke="#555" stroke-width="0.6"/>
<rect x="569.40" y="191.90" width="1.84" height="3.50" fill="#fff" stroke="#5a5a5a" stroke-width="0.34"/>
<line x1="572.98" x2="572.98" y1="185.20" y2="194.60" stroke="#555" stroke-width="0.6"/>
<rect x="572.06" y="190.70" width="1.84" height="1.60" fill="#fff" stroke="#5a5a5a" stroke-width="0.34"/>
<line x1="575.64" x2="575.64" y1="184.50" y2="193.40" stroke="#555" stroke-width="0.6"/>
<rect x="574.72" y="186.00" width="1.84" height="4.70" fill="#fff" stroke="#5a5a5a" stroke-width="0.34"/>
<line x1="578.31" x2="578.31" y1="176.60" y2="184.10" stroke="#555" stroke-width="0.6"/>
<rect x="577.39" y="182.90" width="1.84" height="0.80" fill="#fff" stroke="#5a5a5a" stroke-width="0.34"/>
<line x1="580.97" x2="580.97" y1="181.70" y2="187.60" stroke="#555" stroke-width="0.6"/>
<rect x="580.09" y="182.90" width="1.76" height="3.90" fill="#e40000" stroke="#7a0000" stroke-width="0.34"/>
<line x1="583.63" x2="583.63" y1="186.50" y2="192.30" stroke="#555" stroke-width="0.6"/>
<rect x="582.68" y="186.80" width="1.9" height="1.00" fill="#b00000"/>
<line x1="586.29" x2="586.29" y1="182.90" y2="190.70" stroke="#555" stroke-width="0.6"/>
<rect x="585.34" y="186.80" width="1.9" height="1.00" fill="#b00000"/>
<line x1="588.96" x2="588.96" y1="181.00" y2="187.90" stroke="#555" stroke-width="0.6"/>
<rect x="588.04" y="181.30" width="1.84" height="6.30" fill="#fff" stroke="#5a5a5a" stroke-width="0.34"/>
<line x1="591.62" x2="591.62" y1="183.00" y2="187.60" stroke="#555" stroke-width="0.6"/>
<rect x="590.74" y="183.30" width="1.76" height="1.90" fill="#e40000" stroke="#7a0000" stroke-width="0.34"/>
<line x1="594.28" x2="594.28" y1="179.00" y2="187.60" stroke="#555" stroke-width="0.6"/>
<rect x="593.36" y="183.70" width="1.84" height="3.10" fill="#fff" stroke="#5a5a5a" stroke-width="0.34"/>
<line x1="596.95" x2="596.95" y1="179.00" y2="184.80" stroke="#555" stroke-width="0.6"/>
<rect x="596.03" y="180.90" width="1.84" height="2.00" fill="#fff" stroke="#5a5a5a" stroke-width="0.34"/>
<line x1="599.61" x2="599.61" y1="177.80" y2="182.50" stroke="#555" stroke-width="0.6"/>
<rect x="598.69" y="180.90" width="1.84" height="0.80" fill="#fff" stroke="#5a5a5a" stroke-width="0.34"/>
<line x1="602.27" x2="602.27" y1="178.00" y2="188.40" stroke="#555" stroke-width="0.6"/>
<rect x="601.39" y="178.20" width="1.76" height="8.60" fill="#e40000" stroke="#7a0000" stroke-width="0.34"/>
<line x1="604.94" x2="604.94" y1="178.60" y2="189.50" stroke="#555" stroke-width="0.6"/>
<rect x="604.02" y="179.00" width="1.84" height="8.60" fill="#fff" stroke="#5a5a5a" stroke-width="0.34"/>
<line x1="607.60" x2="607.60" y1="169.70" y2="181.70" stroke="#bdbdbd" stroke-width="0.8"/>
<rect x="606.72" y="169.90" width="1.76" height="9.70" fill="#e2e2e2" stroke="#a0a0a0" stroke-width="0.26"/>
<line x1="606.65" x2="608.55" y1="169.90" y2="169.90" stroke="#444" stroke-width="0.5"/>
<line x1="606.65" x2="608.55" y1="179.60" y2="179.60" stroke="#444" stroke-width="0.5"/>
<line x1="610.26" x2="610.26" y1="172.60" y2="182.90" stroke="#555" stroke-width="0.6"/>
<rect x="609.38" y="174.30" width="1.76" height="6.60" fill="#e40000" stroke="#7a0000" stroke-width="0.34"/>
<line x1="612.92" x2="612.92" y1="181.30" y2="206.50" stroke="#555" stroke-width="0.6"/>
<rect x="612.04" y="181.70" width="1.76" height="6.30" fill="#e40000" stroke="#7a0000" stroke-width="0.34"/>
<line x1="615.59" x2="615.59" y1="179.40" y2="188.40" stroke="#bdbdbd" stroke-width="0.8"/>
<rect x="614.71" y="181.70" width="1.76" height="1.20" fill="#e2e2e2" stroke="#a0a0a0" stroke-width="0.26"/>
<line x1="614.64" x2="616.54" y1="181.70" y2="181.70" stroke="#444" stroke-width="0.5"/>
<line x1="614.64" x2="616.54" y1="182.90" y2="182.90" stroke="#444" stroke-width="0.5"/>
<line x1="618.25" x2="618.25" y1="181.30" y2="188.75" stroke="#555" stroke-width="0.6"/>
<rect x="617.33" y="181.70" width="1.84" height="1.20" fill="#fff" stroke="#5a5a5a" stroke-width="0.34"/>
</g>
<rect x="702.2" y="127.2" width="48.8" height="7.5" fill="#fff" stroke="#6fb86f" stroke-width="0.45"/>
<text transform="translate(703.50,132.80) scale(0.7572,1)" font-size="5.1" fill="#2a8a2a" stroke="#2a8a2a" stroke-width="0.18">TARGET 115.00 (+12.12%)</text>
<rect x="711.8" y="176.2" width="39.2" height="6.2" fill="#fff" stroke="#ff9a6a" stroke-width="0.45"/>
<text transform="translate(713.10,180.90) scale(0.9448,1)" font-size="4.1" fill="#ff8248" font-weight="bold" stroke="#ff8248" stroke-width="0.14">ENTRY HIGH 102.29</text>
<rect x="711.8" y="200.2" width="39.2" height="6.3" fill="#fff" stroke="#ff4a4a" stroke-width="0.45"/>
<text transform="translate(712.90,205.00) scale(0.9472,1)" font-size="4.1" fill="#ff2222" font-weight="bold" stroke="#ff2222" stroke-width="0.14">STOP 96.48 (-5.93%)</text>
<text transform="translate(15.00,318.00) scale(0.9741,1)" font-size="6.6" fill="#727272" stroke="#727272" stroke-width="0.1">IRM, D</text>
<text transform="translate(15.00,325.60) scale(0.8522,1)" font-size="6.2" fill="#7c7c7c" stroke="#7c7c7c" stroke-width="0.1">IRON MOUNTAIN INC.</text>
<text transform="translate(15.00,333.00) scale(0.8593,1)" font-size="6.2" fill="#7c7c7c" stroke="#7c7c7c" stroke-width="0.1">Azioni NYSE</text>
<text transform="translate(15.00,340.20) scale(0.9190,1)" font-size="6.2" fill="#7c7c7c" stroke="#7c7c7c" stroke-width="0.1">Real Estate Investment Trusts</text>
<text transform="translate(12.80,349.30) scale(0.9435,1)" font-size="3.3" fill="#111" font-weight="bold">ProRealTime Trading - Tempo Reale</text>
<rect x="16.7" y="343.6" width="4.0" height="3.8" rx="1" fill="#a9cfec" opacity="0.85"/>
<rect x="44.0" y="343.6" width="4.0" height="3.8" rx="1" fill="#a9cfec" opacity="0.85"/>
<rect x="70.4" y="344.5" width="3.8" height="3.9" rx="0.8" fill="url(#ic)"/>
<rect x="71.4" y="345.7" width="1.8" height="2.0" fill="#0a3f8c" opacity="0.75"/>
<rect x="153.1" y="344.5" width="3.8" height="3.9" rx="0.8" fill="url(#ic)"/>
<rect x="154.1" y="345.7" width="1.8" height="2.0" fill="#0a3f8c" opacity="0.75"/>
<rect x="213.8" y="344.5" width="3.8" height="3.9" rx="0.8" fill="url(#ic)"/>
<rect x="214.8" y="345.7" width="1.8" height="2.0" fill="#0a3f8c" opacity="0.75"/>
<rect x="234.8" y="344.5" width="3.8" height="3.9" rx="0.8" fill="url(#ic)"/>
<rect x="235.8" y="345.7" width="1.8" height="2.0" fill="#0a3f8c" opacity="0.75"/>
<rect x="251.4" y="344.5" width="3.8" height="3.9" rx="0.8" fill="url(#ic)"/>
<rect x="252.4" y="345.7" width="1.8" height="2.0" fill="#0a3f8c" opacity="0.75"/>
<rect x="385.0" y="344.5" width="3.8" height="3.9" rx="0.8" fill="url(#ic)"/>
<rect x="386.0" y="345.7" width="1.8" height="2.0" fill="#0a3f8c" opacity="0.75"/>
<rect x="463.9" y="344.5" width="3.8" height="3.9" rx="0.8" fill="url(#ic)"/>
<rect x="464.9" y="345.7" width="1.8" height="2.0" fill="#0a3f8c" opacity="0.75"/>
<rect x="472.9" y="344.5" width="3.8" height="3.9" rx="0.8" fill="url(#ic)"/>
<rect x="473.9" y="345.7" width="1.8" height="2.0" fill="#0a3f8c" opacity="0.75"/>
<rect x="520.5" y="344.5" width="3.8" height="3.9" rx="0.8" fill="url(#ic)"/>
<rect x="521.5" y="345.7" width="1.8" height="2.0" fill="#0a3f8c" opacity="0.75"/>
<rect x="101.0" y="345.3" width="3.4" height="3.4" rx="1.0" fill="#8ccdf6" opacity="0.8"/>
<rect x="101.8" y="343.7" width="4.2" height="4.6" rx="1.1" fill="url(#ic)"/>
<rect x="103.0" y="344.9" width="1.9" height="2.2" fill="#0a3f8c" opacity="0.75"/>
<rect x="194.0" y="345.3" width="3.4" height="3.4" rx="1.0" fill="#8ccdf6" opacity="0.8"/>
<rect x="194.8" y="343.7" width="4.2" height="4.6" rx="1.1" fill="url(#ic)"/>
<rect x="196.0" y="344.9" width="1.9" height="2.2" fill="#0a3f8c" opacity="0.75"/>
<rect x="241.6" y="345.3" width="3.4" height="3.4" rx="1.0" fill="#8ccdf6" opacity="0.8"/>
<rect x="242.4" y="343.7" width="4.2" height="4.6" rx="1.1" fill="url(#ic)"/>
<rect x="243.6" y="344.9" width="1.9" height="2.2" fill="#0a3f8c" opacity="0.75"/>
<rect x="327.3" y="345.3" width="3.4" height="3.4" rx="1.0" fill="#8ccdf6" opacity="0.8"/>
<rect x="328.1" y="343.7" width="4.2" height="4.6" rx="1.1" fill="url(#ic)"/>
<rect x="329.3" y="344.9" width="1.9" height="2.2" fill="#0a3f8c" opacity="0.75"/>
<rect x="367.8" y="345.3" width="3.4" height="3.4" rx="1.0" fill="#8ccdf6" opacity="0.8"/>
<rect x="368.6" y="343.7" width="4.2" height="4.6" rx="1.1" fill="url(#ic)"/>
<rect x="369.8" y="344.9" width="1.9" height="2.2" fill="#0a3f8c" opacity="0.75"/>
<rect x="509.2" y="345.3" width="3.4" height="3.4" rx="1.0" fill="#8ccdf6" opacity="0.8"/>
<rect x="510.0" y="343.7" width="4.2" height="4.6" rx="1.1" fill="url(#ic)"/>
<rect x="511.2" y="344.9" width="1.9" height="2.2" fill="#0a3f8c" opacity="0.75"/>
<rect x="599.0" y="345.3" width="3.4" height="3.4" rx="1.0" fill="#8ccdf6" opacity="0.8"/>
<rect x="599.8" y="343.7" width="4.2" height="4.6" rx="1.1" fill="url(#ic)"/>
<rect x="601.0" y="344.9" width="1.9" height="2.2" fill="#0a3f8c" opacity="0.75"/>
<rect x="615.8" y="345.3" width="3.4" height="3.4" rx="1.0" fill="#8ccdf6" opacity="0.8"/>
<rect x="616.6" y="343.7" width="4.2" height="4.6" rx="1.1" fill="url(#ic)"/>
<rect x="617.8" y="344.9" width="1.9" height="2.2" fill="#0a3f8c" opacity="0.75"/>
<rect x="93.8" y="344.4" width="4.4" height="3.2" fill="#222"/>
<rect x="95.0" y="347.6" width="3.6" height="1.5" fill="#333"/>
<rect x="263.8" y="344.4" width="4.4" height="3.2" fill="#222"/>
<rect x="265.0" y="347.6" width="3.6" height="1.5" fill="#333"/>
<rect x="424.5" y="344.4" width="4.4" height="3.2" fill="#222"/>
<rect x="425.7" y="347.6" width="3.6" height="1.5" fill="#333"/>
<rect x="592.0" y="344.4" width="4.4" height="3.2" fill="#222"/>
<rect x="593.2" y="347.6" width="3.6" height="1.5" fill="#333"/>
<rect x="12" y="350.1" width="739" height="0.9" fill="#c4c4c4"/>
<rect x="12" y="373.5" width="739" height="0.9" fill="#b8b8b8"/>
<rect x="12.78" y="357.60" width="1.94" height="16.10" fill="#000"/>
<rect x="15.44" y="362.60" width="1.94" height="11.10" fill="#1a35b8"/>
<rect x="18.11" y="362.00" width="1.94" height="11.70" fill="#1a35b8"/>
<rect x="20.77" y="366.90" width="1.94" height="6.80" fill="#d0d0d0"/>
<rect x="23.43" y="367.60" width="1.94" height="6.10" fill="#d0d0d0"/>
<rect x="26.09" y="369.30" width="1.94" height="4.40" fill="#ff00e6"/>
<rect x="28.76" y="369.80" width="1.94" height="3.90" fill="#ff00e6"/>
<rect x="31.42" y="369.80" width="1.94" height="3.90" fill="#ff00e6"/>
<rect x="34.08" y="369.30" width="1.94" height="4.40" fill="#d0d0d0"/>
<rect x="36.75" y="370.20" width="1.94" height="3.50" fill="#ff00e6"/>
<rect x="39.41" y="369.50" width="1.94" height="4.20" fill="#ff00e6"/>
<rect x="42.07" y="366.90" width="1.94" height="6.80" fill="#d0d0d0"/>
<rect x="44.74" y="369.30" width="1.94" height="4.40" fill="#ff00e6"/>
<rect x="47.40" y="370.20" width="1.94" height="3.50" fill="#ff00e6"/>
<rect x="50.06" y="368.00" width="1.94" height="5.70" fill="#d0d0d0"/>
<rect x="52.73" y="368.50" width="1.94" height="5.20" fill="#d0d0d0"/>
<rect x="55.39" y="370.20" width="1.94" height="3.50" fill="#ff00e6"/>
<rect x="58.05" y="369.30" width="1.94" height="4.40" fill="#ff00e6"/>
<rect x="60.71" y="369.80" width="1.94" height="3.90" fill="#ff00e6"/>
<rect x="63.38" y="369.30" width="1.94" height="4.40" fill="#d0d0d0"/>
<rect x="66.04" y="370.20" width="1.94" height="3.50" fill="#ff00e6"/>
<rect x="68.70" y="365.90" width="1.94" height="7.80" fill="#d0d0d0"/>
<rect x="71.37" y="368.90" width="1.94" height="4.80" fill="#d0d0d0"/>
<rect x="74.03" y="369.30" width="1.94" height="4.40" fill="#d0d0d0"/>
<rect x="76.69" y="368.20" width="1.94" height="5.50" fill="#d0d0d0"/>
<rect x="79.35" y="368.90" width="1.94" height="4.80" fill="#d0d0d0"/>
<rect x="82.02" y="370.60" width="1.94" height="3.10" fill="#ff00e6"/>
<rect x="84.68" y="368.20" width="1.94" height="5.50" fill="#d0d0d0"/>
<rect x="87.34" y="369.50" width="1.94" height="4.20" fill="#d0d0d0"/>
<rect x="90.01" y="368.90" width="1.94" height="4.80" fill="#d0d0d0"/>
<rect x="92.67" y="369.50" width="1.94" height="4.20" fill="#d0d0d0"/>
<rect x="95.33" y="369.50" width="1.94" height="4.20" fill="#d0d0d0"/>
<rect x="98.00" y="369.30" width="1.94" height="4.40" fill="#d0d0d0"/>
<rect x="100.66" y="369.50" width="1.94" height="4.20" fill="#d0d0d0"/>
<rect x="103.32" y="367.20" width="1.94" height="6.50" fill="#d0d0d0"/>
<rect x="105.98" y="359.80" width="1.94" height="13.90" fill="#000"/>
<rect x="108.65" y="368.70" width="1.94" height="5.00" fill="#d0d0d0"/>
<rect x="111.31" y="369.30" width="1.94" height="4.40" fill="#d0d0d0"/>
<rect x="113.97" y="369.80" width="1.94" height="3.90" fill="#d0d0d0"/>
<rect x="116.64" y="369.80" width="1.94" height="3.90" fill="#d0d0d0"/>
<rect x="119.30" y="369.30" width="1.94" height="4.40" fill="#d0d0d0"/>
<rect x="121.96" y="366.90" width="1.94" height="6.80" fill="#d0d0d0"/>
<rect x="124.63" y="368.90" width="1.94" height="4.80" fill="#d0d0d0"/>
<rect x="127.29" y="370.20" width="1.94" height="3.50" fill="#ff00e6"/>
<rect x="129.95" y="370.60" width="1.94" height="3.10" fill="#ff00e6"/>
<rect x="132.61" y="370.60" width="1.94" height="3.10" fill="#ff00e6"/>
<rect x="135.28" y="370.20" width="1.94" height="3.50" fill="#ff00e6"/>
<rect x="137.94" y="369.80" width="1.94" height="3.90" fill="#ff00e6"/>
<rect x="140.60" y="370.20" width="1.94" height="3.50" fill="#ff00e6"/>
<rect x="143.27" y="368.90" width="1.94" height="4.80" fill="#d0d0d0"/>
<rect x="145.93" y="371.10" width="1.94" height="2.60" fill="#ff00e6"/>
<rect x="148.59" y="371.10" width="1.94" height="2.60" fill="#ff00e6"/>
<rect x="151.26" y="369.80" width="1.94" height="3.90" fill="#d0d0d0"/>
<rect x="153.92" y="369.50" width="1.94" height="4.20" fill="#d0d0d0"/>
<rect x="156.58" y="370.20" width="1.94" height="3.50" fill="#d0d0d0"/>
<rect x="159.25" y="370.20" width="1.94" height="3.50" fill="#d0d0d0"/>
<rect x="161.91" y="369.50" width="1.94" height="4.20" fill="#d0d0d0"/>
<rect x="164.57" y="369.80" width="1.94" height="3.90" fill="#d0d0d0"/>
<rect x="167.23" y="369.30" width="1.94" height="4.40" fill="#d0d0d0"/>
<rect x="169.90" y="369.80" width="1.94" height="3.90" fill="#d0d0d0"/>
<rect x="172.56" y="366.90" width="1.94" height="6.80" fill="#1a35b8"/>
<rect x="175.22" y="369.30" width="1.94" height="4.40" fill="#d0d0d0"/>
<rect x="177.89" y="370.60" width="1.94" height="3.10" fill="#d0d0d0"/>
<rect x="180.55" y="369.80" width="1.94" height="3.90" fill="#d0d0d0"/>
<rect x="183.21" y="366.90" width="1.94" height="6.80" fill="#1a35b8"/>
<rect x="185.88" y="367.60" width="1.94" height="6.10" fill="#1a35b8"/>
<rect x="188.54" y="369.50" width="1.94" height="4.20" fill="#d0d0d0"/>
<rect x="191.20" y="369.30" width="1.94" height="4.40" fill="#d0d0d0"/>
<rect x="193.86" y="359.10" width="1.94" height="14.60" fill="#000"/>
<rect x="196.53" y="365.90" width="1.94" height="7.80" fill="#1a35b8"/>
<rect x="199.19" y="369.50" width="1.94" height="4.20" fill="#d0d0d0"/>
<rect x="201.85" y="369.30" width="1.94" height="4.40" fill="#d0d0d0"/>
<rect x="204.52" y="368.40" width="1.94" height="5.30" fill="#d0d0d0"/>
<rect x="207.18" y="369.30" width="1.94" height="4.40" fill="#d0d0d0"/>
<rect x="209.84" y="369.30" width="1.94" height="4.40" fill="#d0d0d0"/>
<rect x="212.50" y="368.90" width="1.94" height="4.80" fill="#d0d0d0"/>
<rect x="215.17" y="369.30" width="1.94" height="4.40" fill="#d0d0d0"/>
<rect x="217.83" y="370.20" width="1.94" height="3.50" fill="#d0d0d0"/>
<rect x="220.49" y="371.50" width="1.94" height="2.20" fill="#ff00e6"/>
<rect x="223.16" y="369.30" width="1.94" height="4.40" fill="#d0d0d0"/>
<rect x="225.82" y="371.10" width="1.94" height="2.60" fill="#ff00e6"/>
<rect x="228.48" y="366.30" width="1.94" height="7.40" fill="#1a35b8"/>
<rect x="231.15" y="370.20" width="1.94" height="3.50" fill="#d0d0d0"/>
<rect x="233.81" y="370.80" width="1.94" height="2.90" fill="#ff00e6"/>
<rect x="236.47" y="372.40" width="1.94" height="1.30" fill="#ff00e6"/>
<rect x="239.13" y="367.20" width="1.94" height="6.50" fill="#1a35b8"/>
<rect x="241.80" y="366.30" width="1.94" height="7.40" fill="#1a35b8"/>
<rect x="244.46" y="369.30" width="1.94" height="4.40" fill="#d0d0d0"/>
<rect x="247.12" y="369.50" width="1.94" height="4.20" fill="#d0d0d0"/>
<rect x="249.79" y="369.80" width="1.94" height="3.90" fill="#d0d0d0"/>
<rect x="252.45" y="367.20" width="1.94" height="6.50" fill="#1a35b8"/>
<rect x="255.11" y="365.60" width="1.94" height="8.10" fill="#1a35b8"/>
<rect x="257.78" y="369.30" width="1.94" height="4.40" fill="#d0d0d0"/>
<rect x="260.44" y="369.80" width="1.94" height="3.90" fill="#d0d0d0"/>
<rect x="263.10" y="370.60" width="1.94" height="3.10" fill="#d0d0d0"/>
<rect x="265.76" y="369.50" width="1.94" height="4.20" fill="#d0d0d0"/>
<rect x="268.43" y="369.30" width="1.94" height="4.40" fill="#d0d0d0"/>
<rect x="271.09" y="364.30" width="1.94" height="9.40" fill="#1a35b8"/>
<rect x="273.75" y="363.30" width="1.94" height="10.40" fill="#000"/>
<rect x="276.42" y="355.50" width="1.94" height="18.20" fill="#000"/>
<rect x="279.08" y="366.90" width="1.94" height="6.80" fill="#1a35b8"/>
<rect x="281.74" y="371.90" width="1.94" height="1.80" fill="#ff00e6"/>
<rect x="284.41" y="370.60" width="1.94" height="3.10" fill="#ff00e6"/>
<rect x="287.07" y="370.60" width="1.94" height="3.10" fill="#ff00e6"/>
<rect x="289.73" y="368.20" width="1.94" height="5.50" fill="#d0d0d0"/>
<rect x="292.39" y="368.20" width="1.94" height="5.50" fill="#d0d0d0"/>
<rect x="295.06" y="365.60" width="1.94" height="8.10" fill="#1a35b8"/>
<rect x="297.72" y="366.30" width="1.94" height="7.40" fill="#1a35b8"/>
<rect x="300.38" y="367.60" width="1.94" height="6.10" fill="#d0d0d0"/>
<rect x="303.05" y="365.40" width="1.94" height="8.30" fill="#1a35b8"/>
<rect x="305.71" y="367.60" width="1.94" height="6.10" fill="#d0d0d0"/>
<rect x="308.37" y="368.50" width="1.94" height="5.20" fill="#d0d0d0"/>
<rect x="311.04" y="367.60" width="1.94" height="6.10" fill="#d0d0d0"/>
<rect x="313.70" y="369.30" width="1.94" height="4.40" fill="#d0d0d0"/>
<rect x="316.36" y="368.50" width="1.94" height="5.20" fill="#d0d0d0"/>
<rect x="319.02" y="368.00" width="1.94" height="5.70" fill="#d0d0d0"/>
<rect x="321.69" y="367.60" width="1.94" height="6.10" fill="#d0d0d0"/>
<rect x="324.35" y="369.30" width="1.94" height="4.40" fill="#d0d0d0"/>
<rect x="327.01" y="370.20" width="1.94" height="3.50" fill="#d0d0d0"/>
<rect x="329.68" y="370.80" width="1.94" height="2.90" fill="#ff00e6"/>
<rect x="332.34" y="370.20" width="1.94" height="3.50" fill="#d0d0d0"/>
<rect x="335.00" y="362.80" width="1.94" height="10.90" fill="#000"/>
<rect x="337.67" y="360.40" width="1.94" height="13.30" fill="#000"/>
<rect x="340.33" y="366.30" width="1.94" height="7.40" fill="#1a35b8"/>
<rect x="342.99" y="368.90" width="1.94" height="4.80" fill="#d0d0d0"/>
<rect x="345.65" y="369.30" width="1.94" height="4.40" fill="#d0d0d0"/>
<rect x="348.32" y="368.50" width="1.94" height="5.20" fill="#d0d0d0"/>
<rect x="350.98" y="369.30" width="1.94" height="4.40" fill="#d0d0d0"/>
<rect x="353.64" y="370.60" width="1.94" height="3.10" fill="#ff00e6"/>
<rect x="356.31" y="368.20" width="1.94" height="5.50" fill="#d0d0d0"/>
<rect x="358.97" y="369.30" width="1.94" height="4.40" fill="#d0d0d0"/>
<rect x="361.63" y="370.80" width="1.94" height="2.90" fill="#ff00e6"/>
<rect x="364.30" y="370.60" width="1.94" height="3.10" fill="#ff00e6"/>
<rect x="366.96" y="364.30" width="1.94" height="9.40" fill="#1a35b8"/>
<rect x="369.62" y="360.40" width="1.94" height="13.30" fill="#000"/>
<rect x="372.28" y="365.60" width="1.94" height="8.10" fill="#1a35b8"/>
<rect x="374.95" y="365.40" width="1.94" height="8.30" fill="#1a35b8"/>
<rect x="377.61" y="358.10" width="1.94" height="15.60" fill="#000"/>
<rect x="380.27" y="360.40" width="1.94" height="13.30" fill="#000"/>
<rect x="382.94" y="366.70" width="1.94" height="7.00" fill="#d0d0d0"/>
<rect x="385.60" y="366.70" width="1.94" height="7.00" fill="#d0d0d0"/>
<rect x="388.26" y="366.30" width="1.94" height="7.40" fill="#d0d0d0"/>
<rect x="390.93" y="368.20" width="1.94" height="5.50" fill="#d0d0d0"/>
<rect x="393.59" y="368.90" width="1.94" height="4.80" fill="#d0d0d0"/>
<rect x="396.25" y="363.70" width="1.94" height="10.00" fill="#1a35b8"/>
<rect x="398.91" y="366.50" width="1.94" height="7.20" fill="#d0d0d0"/>
<rect x="401.58" y="365.40" width="1.94" height="8.30" fill="#d0d0d0"/>
<rect x="404.24" y="366.30" width="1.94" height="7.40" fill="#d0d0d0"/>
<rect x="406.90" y="361.70" width="1.94" height="12.00" fill="#1a35b8"/>
<rect x="409.57" y="361.10" width="1.94" height="12.60" fill="#1a35b8"/>
<rect x="412.23" y="362.40" width="1.94" height="11.30" fill="#1a35b8"/>
<rect x="414.89" y="365.40" width="1.94" height="8.30" fill="#d0d0d0"/>
<rect x="417.56" y="366.70" width="1.94" height="7.00" fill="#d0d0d0"/>
<rect x="420.22" y="366.70" width="1.94" height="7.00" fill="#d0d0d0"/>
<rect x="422.88" y="368.00" width="1.94" height="5.70" fill="#d0d0d0"/>
<rect x="425.54" y="365.40" width="1.94" height="8.30" fill="#d0d0d0"/>
<rect x="428.21" y="368.00" width="1.94" height="5.70" fill="#d0d0d0"/>
<rect x="430.87" y="368.90" width="1.94" height="4.80" fill="#d0d0d0"/>
<rect x="433.53" y="368.90" width="1.94" height="4.80" fill="#d0d0d0"/>
<rect x="436.20" y="363.00" width="1.94" height="10.70" fill="#1a35b8"/>
<rect x="438.86" y="370.20" width="1.94" height="3.50" fill="#ff00e6"/>
<rect x="441.52" y="368.20" width="1.94" height="5.50" fill="#d0d0d0"/>
<rect x="444.19" y="369.80" width="1.94" height="3.90" fill="#ff00e6"/>
<rect x="446.85" y="368.90" width="1.94" height="4.80" fill="#d0d0d0"/>
<rect x="449.51" y="369.30" width="1.94" height="4.40" fill="#ff00e6"/>
<rect x="452.17" y="365.90" width="1.94" height="7.80" fill="#d0d0d0"/>
<rect x="454.84" y="366.30" width="1.94" height="7.40" fill="#d0d0d0"/>
<rect x="457.50" y="369.30" width="1.94" height="4.40" fill="#ff00e6"/>
<rect x="460.16" y="366.90" width="1.94" height="6.80" fill="#d0d0d0"/>
<rect x="462.83" y="365.00" width="1.94" height="8.70" fill="#d0d0d0"/>
<rect x="465.49" y="362.80" width="1.94" height="10.90" fill="#1a35b8"/>
<rect x="468.15" y="362.80" width="1.94" height="10.90" fill="#1a35b8"/>
<rect x="470.82" y="361.70" width="1.94" height="12.00" fill="#1a35b8"/>
<rect x="473.48" y="366.30" width="1.94" height="7.40" fill="#d0d0d0"/>
<rect x="476.14" y="368.00" width="1.94" height="5.70" fill="#d0d0d0"/>
<rect x="478.80" y="368.50" width="1.94" height="5.20" fill="#d0d0d0"/>
<rect x="481.47" y="369.80" width="1.94" height="3.90" fill="#ff00e6"/>
<rect x="484.13" y="369.80" width="1.94" height="3.90" fill="#ff00e6"/>
<rect x="486.79" y="368.50" width="1.94" height="5.20" fill="#d0d0d0"/>
<rect x="489.46" y="370.20" width="1.94" height="3.50" fill="#ff00e6"/>
<rect x="492.12" y="370.20" width="1.94" height="3.50" fill="#ff00e6"/>
<rect x="494.78" y="370.20" width="1.94" height="3.50" fill="#ff00e6"/>
<rect x="497.45" y="370.20" width="1.94" height="3.50" fill="#ff00e6"/>
<rect x="500.11" y="366.70" width="1.94" height="7.00" fill="#d0d0d0"/>
<rect x="502.77" y="368.90" width="1.94" height="4.80" fill="#d0d0d0"/>
<rect x="505.43" y="369.30" width="1.94" height="4.40" fill="#ff00e6"/>
<rect x="508.10" y="365.40" width="1.94" height="8.30" fill="#d0d0d0"/>
<rect x="510.76" y="364.60" width="1.94" height="9.10" fill="#1a35b8"/>
<rect x="513.42" y="365.60" width="1.94" height="8.10" fill="#d0d0d0"/>
<rect x="516.09" y="368.90" width="1.94" height="4.80" fill="#d0d0d0"/>
<rect x="518.75" y="368.90" width="1.94" height="4.80" fill="#d0d0d0"/>
<rect x="521.41" y="368.00" width="1.94" height="5.70" fill="#d0d0d0"/>
<rect x="524.08" y="369.30" width="1.94" height="4.40" fill="#d0d0d0"/>
<rect x="526.74" y="370.20" width="1.94" height="3.50" fill="#ff00e6"/>
<rect x="529.40" y="370.60" width="1.94" height="3.10" fill="#ff00e6"/>
<rect x="532.06" y="369.80" width="1.94" height="3.90" fill="#ff00e6"/>
<rect x="534.73" y="368.00" width="1.94" height="5.70" fill="#d0d0d0"/>
<rect x="537.39" y="369.30" width="1.94" height="4.40" fill="#d0d0d0"/>
<rect x="540.05" y="368.00" width="1.94" height="5.70" fill="#d0d0d0"/>
<rect x="542.72" y="369.30" width="1.94" height="4.40" fill="#d0d0d0"/>
<rect x="545.38" y="370.20" width="1.94" height="3.50" fill="#ff00e6"/>
<rect x="548.04" y="368.00" width="1.94" height="5.70" fill="#d0d0d0"/>
<rect x="550.71" y="369.80" width="1.94" height="3.90" fill="#ff00e6"/>
<rect x="553.37" y="370.80" width="1.94" height="2.90" fill="#ff00e6"/>
<rect x="556.03" y="368.90" width="1.94" height="4.80" fill="#d0d0d0"/>
<rect x="558.69" y="370.20" width="1.94" height="3.50" fill="#ff00e6"/>
<rect x="561.36" y="369.50" width="1.94" height="4.20" fill="#d0d0d0"/>
<rect x="564.02" y="358.50" width="1.94" height="15.20" fill="#000"/>
<rect x="566.68" y="369.30" width="1.94" height="4.40" fill="#d0d0d0"/>
<rect x="569.35" y="369.80" width="1.94" height="3.90" fill="#d0d0d0"/>
<rect x="572.01" y="369.50" width="1.94" height="4.20" fill="#d0d0d0"/>
<rect x="574.67" y="368.90" width="1.94" height="4.80" fill="#d0d0d0"/>
<rect x="577.34" y="367.60" width="1.94" height="6.10" fill="#d0d0d0"/>
<rect x="580.00" y="368.20" width="1.94" height="5.50" fill="#d0d0d0"/>
<rect x="582.66" y="369.50" width="1.94" height="4.20" fill="#d0d0d0"/>
<rect x="585.32" y="370.20" width="1.94" height="3.50" fill="#ff00e6"/>
<rect x="587.99" y="368.20" width="1.94" height="5.50" fill="#d0d0d0"/>
<rect x="590.65" y="370.20" width="1.94" height="3.50" fill="#ff00e6"/>
<rect x="593.31" y="368.90" width="1.94" height="4.80" fill="#d0d0d0"/>
<rect x="595.98" y="368.20" width="1.94" height="5.50" fill="#d0d0d0"/>
<rect x="598.64" y="370.60" width="1.94" height="3.10" fill="#ff00e6"/>
<rect x="601.30" y="365.00" width="1.94" height="8.70" fill="#1a35b8"/>
<rect x="603.97" y="369.80" width="1.94" height="3.90" fill="#d0d0d0"/>
<rect x="606.63" y="369.50" width="1.94" height="4.20" fill="#d0d0d0"/>
<rect x="609.29" y="368.90" width="1.94" height="4.80" fill="#d0d0d0"/>
<rect x="611.95" y="363.30" width="1.94" height="10.40" fill="#000"/>
<rect x="614.62" y="355.50" width="1.94" height="18.20" fill="#000"/>
<rect x="617.28" y="366.30" width="1.94" height="7.40" fill="#1a35b8"/>
<path d="M12.0,366.4 L71.0,366.4 L73.0,368.0 L120.0,368.3 L150.0,369.3 L185.0,369.3 L215.0,368.6 L300.0,368.6 L330.0,368.3 L360.0,367.6 L395.0,366.9 L425.0,366.7 L520.0,366.8 L545.0,367.2 L575.0,368.2 L618.0,368.5" fill="none" stroke="#ff9a3c" stroke-width="0.55" stroke-dasharray="1,1.663"/>
<rect x="12.78" y="385.90" width="1.94" height="16.30" fill="#000"/>
<rect x="15.44" y="383.70" width="1.94" height="18.50" fill="#000"/>
<rect x="18.11" y="386.30" width="1.94" height="15.90" fill="#000"/>
<rect x="20.77" y="387.60" width="1.94" height="14.60" fill="#000"/>
<rect x="23.43" y="388.30" width="1.94" height="13.90" fill="#000"/>
<rect x="26.09" y="388.30" width="1.94" height="13.90" fill="#000"/>
<rect x="28.76" y="392.20" width="1.94" height="10.00" fill="#1a35b8"/>
<rect x="31.42" y="396.30" width="1.94" height="5.90" fill="#d0d0d0"/>
<rect x="34.08" y="397.30" width="1.94" height="4.90" fill="#d0d0d0"/>
<rect x="36.75" y="397.30" width="1.94" height="4.90" fill="#d0d0d0"/>
<rect x="39.41" y="399.90" width="1.94" height="2.30" fill="#ff00e6"/>
<rect x="42.07" y="399.60" width="1.94" height="2.60" fill="#ff00e6"/>
<rect x="44.74" y="400.20" width="1.94" height="2.00" fill="#ff00e6"/>
<rect x="47.40" y="400.20" width="1.94" height="2.00" fill="#ff00e6"/>
<rect x="50.06" y="397.30" width="1.94" height="4.90" fill="#d0d0d0"/>
<rect x="52.73" y="396.30" width="1.94" height="5.90" fill="#d0d0d0"/>
<rect x="55.39" y="396.10" width="1.94" height="6.10" fill="#d0d0d0"/>
<rect x="58.05" y="396.30" width="1.94" height="5.90" fill="#d0d0d0"/>
<rect x="60.71" y="396.70" width="1.94" height="5.50" fill="#d0d0d0"/>
<rect x="63.38" y="399.30" width="1.94" height="2.90" fill="#ff00e6"/>
<rect x="66.04" y="398.90" width="1.94" height="3.30" fill="#d0d0d0"/>
<rect x="68.70" y="398.60" width="1.94" height="3.60" fill="#d0d0d0"/>
<rect x="71.37" y="398.60" width="1.94" height="3.60" fill="#d0d0d0"/>
<rect x="74.03" y="398.90" width="1.94" height="3.30" fill="#d0d0d0"/>
<rect x="76.69" y="395.70" width="1.94" height="6.50" fill="#d0d0d0"/>
<rect x="79.35" y="395.00" width="1.94" height="7.20" fill="#d0d0d0"/>
<rect x="82.02" y="394.60" width="1.94" height="7.60" fill="#d0d0d0"/>
<rect x="84.68" y="395.00" width="1.94" height="7.20" fill="#d0d0d0"/>
<rect x="87.34" y="394.40" width="1.94" height="7.80" fill="#d0d0d0"/>
<rect x="90.01" y="392.00" width="1.94" height="10.20" fill="#1a35b8"/>
<rect x="92.67" y="392.80" width="1.94" height="9.40" fill="#1a35b8"/>
<rect x="95.33" y="393.10" width="1.94" height="9.10" fill="#1a35b8"/>
<rect x="98.00" y="394.10" width="1.94" height="8.10" fill="#d0d0d0"/>
<rect x="100.66" y="398.60" width="1.94" height="3.60" fill="#ff00e6"/>
<rect x="103.32" y="395.70" width="1.94" height="6.50" fill="#d0d0d0"/>
<rect x="105.98" y="395.70" width="1.94" height="6.50" fill="#d0d0d0"/>
<rect x="108.65" y="395.40" width="1.94" height="6.80" fill="#d0d0d0"/>
<rect x="111.31" y="394.40" width="1.94" height="7.80" fill="#d0d0d0"/>
<rect x="113.97" y="393.10" width="1.94" height="9.10" fill="#1a35b8"/>
<rect x="116.64" y="393.10" width="1.94" height="9.10" fill="#1a35b8"/>
<rect x="119.30" y="398.30" width="1.94" height="3.90" fill="#d0d0d0"/>
<rect x="121.96" y="398.30" width="1.94" height="3.90" fill="#d0d0d0"/>
<rect x="124.63" y="398.30" width="1.94" height="3.90" fill="#d0d0d0"/>
<rect x="127.29" y="399.30" width="1.94" height="2.90" fill="#ff00e6"/>
<rect x="129.95" y="399.30" width="1.94" height="2.90" fill="#ff00e6"/>
<rect x="132.61" y="399.30" width="1.94" height="2.90" fill="#ff00e6"/>
<rect x="135.28" y="399.30" width="1.94" height="2.90" fill="#ff00e6"/>
<rect x="137.94" y="399.30" width="1.94" height="2.90" fill="#ff00e6"/>
<rect x="140.60" y="398.30" width="1.94" height="3.90" fill="#d0d0d0"/>
<rect x="143.27" y="398.30" width="1.94" height="3.90" fill="#d0d0d0"/>
<rect x="145.93" y="398.30" width="1.94" height="3.90" fill="#d0d0d0"/>
<rect x="148.59" y="398.30" width="1.94" height="3.90" fill="#d0d0d0"/>
<rect x="151.26" y="397.60" width="1.94" height="4.60" fill="#d0d0d0"/>
<rect x="153.92" y="395.95" width="1.94" height="6.25" fill="#d0d0d0"/>
<rect x="156.58" y="396.70" width="1.94" height="5.50" fill="#d0d0d0"/>
<rect x="159.25" y="395.70" width="1.94" height="6.50" fill="#d0d0d0"/>
<rect x="161.91" y="398.60" width="1.94" height="3.60" fill="#d0d0d0"/>
<rect x="164.57" y="398.90" width="1.94" height="3.30" fill="#d0d0d0"/>
<rect x="167.23" y="398.90" width="1.94" height="3.30" fill="#d0d0d0"/>
<rect x="169.90" y="398.30" width="1.94" height="3.90" fill="#d0d0d0"/>
<rect x="172.56" y="393.70" width="1.94" height="8.50" fill="#1a35b8"/>
<rect x="175.22" y="393.70" width="1.94" height="8.50" fill="#1a35b8"/>
<rect x="177.89" y="394.60" width="1.94" height="7.60" fill="#1a35b8"/>
<rect x="180.55" y="397.60" width="1.94" height="4.60" fill="#d0d0d0"/>
<rect x="183.21" y="395.00" width="1.94" height="7.20" fill="#d0d0d0"/>
<rect x="185.88" y="392.40" width="1.94" height="9.80" fill="#1a35b8"/>
<rect x="188.54" y="393.30" width="1.94" height="8.90" fill="#1a35b8"/>
<rect x="191.20" y="393.30" width="1.94" height="8.90" fill="#1a35b8"/>
<rect x="193.86" y="383.30" width="1.94" height="18.90" fill="#000"/>
<rect x="196.53" y="385.30" width="1.94" height="16.90" fill="#000"/>
<rect x="199.19" y="385.30" width="1.94" height="16.90" fill="#000"/>
<rect x="201.85" y="385.30" width="1.94" height="16.90" fill="#000"/>
<rect x="204.52" y="387.20" width="1.94" height="15.00" fill="#1a35b8"/>
<rect x="207.18" y="393.10" width="1.94" height="9.10" fill="#d0d0d0"/>
<rect x="209.84" y="393.70" width="1.94" height="8.50" fill="#d0d0d0"/>
<rect x="212.50" y="393.70" width="1.94" height="8.50" fill="#d0d0d0"/>
<rect x="215.17" y="397.30" width="1.94" height="4.90" fill="#d0d0d0"/>
<rect x="217.83" y="398.00" width="1.94" height="4.20" fill="#d0d0d0"/>
<rect x="220.49" y="398.30" width="1.94" height="3.90" fill="#d0d0d0"/>
<rect x="223.16" y="394.40" width="1.94" height="7.80" fill="#d0d0d0"/>
<rect x="225.82" y="395.40" width="1.94" height="6.80" fill="#d0d0d0"/>
<rect x="228.48" y="395.40" width="1.94" height="6.80" fill="#d0d0d0"/>
<rect x="231.15" y="392.00" width="1.94" height="10.20" fill="#1a35b8"/>
<rect x="233.81" y="391.50" width="1.94" height="10.70" fill="#1a35b8"/>
<rect x="236.47" y="394.60" width="1.94" height="7.60" fill="#d0d0d0"/>
<rect x="239.13" y="396.30" width="1.94" height="5.90" fill="#d0d0d0"/>
<rect x="241.80" y="397.30" width="1.94" height="4.90" fill="#d0d0d0"/>
<rect x="244.46" y="394.60" width="1.94" height="7.60" fill="#d0d0d0"/>
<rect x="247.12" y="394.10" width="1.94" height="8.10" fill="#d0d0d0"/>
<rect x="249.79" y="396.30" width="1.94" height="5.90" fill="#d0d0d0"/>
<rect x="252.45" y="392.00" width="1.94" height="10.20" fill="#1a35b8"/>
<rect x="255.11" y="391.50" width="1.94" height="10.70" fill="#1a35b8"/>
<rect x="257.78" y="391.10" width="1.94" height="11.10" fill="#1a35b8"/>
<rect x="260.44" y="391.10" width="1.94" height="11.10" fill="#1a35b8"/>
<rect x="263.10" y="391.10" width="1.94" height="11.10" fill="#1a35b8"/>
<rect x="265.76" y="398.30" width="1.94" height="3.90" fill="#ff00e6"/>
<rect x="268.43" y="397.30" width="1.94" height="4.90" fill="#d0d0d0"/>
<rect x="271.09" y="388.10" width="1.94" height="14.10" fill="#1a35b8"/>
<rect x="273.75" y="387.20" width="1.94" height="15.00" fill="#1a35b8"/>
<rect x="276.42" y="388.10" width="1.94" height="14.10" fill="#1a35b8"/>
<rect x="279.08" y="390.70" width="1.94" height="11.50" fill="#d0d0d0"/>
<rect x="281.74" y="391.80" width="1.94" height="10.40" fill="#d0d0d0"/>
<rect x="284.41" y="396.30" width="1.94" height="5.90" fill="#d0d0d0"/>
<rect x="287.07" y="398.00" width="1.94" height="4.20" fill="#ff00e6"/>
<rect x="289.73" y="398.60" width="1.94" height="3.60" fill="#ff00e6"/>
<rect x="292.39" y="398.60" width="1.94" height="3.60" fill="#ff00e6"/>
<rect x="295.06" y="398.60" width="1.94" height="3.60" fill="#ff00e6"/>
<rect x="297.72" y="398.60" width="1.94" height="3.60" fill="#ff00e6"/>
<rect x="300.38" y="398.60" width="1.94" height="3.60" fill="#ff00e6"/>
<rect x="303.05" y="395.40" width="1.94" height="6.80" fill="#d0d0d0"/>
<rect x="305.71" y="395.40" width="1.94" height="6.80" fill="#d0d0d0"/>
<rect x="308.37" y="395.40" width="1.94" height="6.80" fill="#d0d0d0"/>
<rect x="311.04" y="395.40" width="1.94" height="6.80" fill="#d0d0d0"/>
<rect x="313.70" y="397.60" width="1.94" height="4.60" fill="#ff00e6"/>
<rect x="316.36" y="392.80" width="1.94" height="9.40" fill="#d0d0d0"/>
<rect x="319.02" y="389.20" width="1.94" height="13.00" fill="#1a35b8"/>
<rect x="321.69" y="388.90" width="1.94" height="13.30" fill="#1a35b8"/>
<rect x="324.35" y="392.40" width="1.94" height="9.80" fill="#d0d0d0"/>
<rect x="327.01" y="395.95" width="1.94" height="6.25" fill="#d0d0d0"/>
<rect x="329.68" y="396.70" width="1.94" height="5.50" fill="#d0d0d0"/>
<rect x="332.34" y="400.20" width="1.94" height="2.00" fill="#ff00e6"/>
<rect x="335.00" y="388.50" width="1.94" height="13.70" fill="#1a35b8"/>
<rect x="337.67" y="384.00" width="1.94" height="18.20" fill="#000"/>
<rect x="340.33" y="383.70" width="1.94" height="18.50" fill="#1a35b8"/>
<rect x="342.99" y="383.70" width="1.94" height="18.50" fill="#1a35b8"/>
<rect x="345.65" y="389.40" width="1.94" height="12.80" fill="#1a35b8"/>
<rect x="348.32" y="393.30" width="1.94" height="8.90" fill="#d0d0d0"/>
<rect x="350.98" y="394.10" width="1.94" height="8.10" fill="#d0d0d0"/>
<rect x="353.64" y="392.40" width="1.94" height="9.80" fill="#d0d0d0"/>
<rect x="356.31" y="390.20" width="1.94" height="12.00" fill="#1a35b8"/>
<rect x="358.97" y="389.40" width="1.94" height="12.80" fill="#1a35b8"/>
<rect x="361.63" y="394.10" width="1.94" height="8.10" fill="#d0d0d0"/>
<rect x="364.30" y="397.60" width="1.94" height="4.60" fill="#ff00e6"/>
<rect x="366.96" y="391.10" width="1.94" height="11.10" fill="#d0d0d0"/>
<rect x="369.62" y="387.20" width="1.94" height="15.00" fill="#1a35b8"/>
<rect x="372.28" y="387.60" width="1.94" height="14.60" fill="#1a35b8"/>
<rect x="374.95" y="386.60" width="1.94" height="15.60" fill="#1a35b8"/>
<rect x="377.61" y="387.90" width="1.94" height="14.30" fill="#1a35b8"/>
<rect x="380.27" y="388.50" width="1.94" height="13.70" fill="#1a35b8"/>
<rect x="382.94" y="396.70" width="1.94" height="5.50" fill="#d0d0d0"/>
<rect x="385.60" y="394.40" width="1.94" height="7.80" fill="#d0d0d0"/>
<rect x="388.26" y="397.60" width="1.94" height="4.60" fill="#ff00e6"/>
<rect x="390.93" y="396.70" width="1.94" height="5.50" fill="#d0d0d0"/>
<rect x="393.59" y="396.70" width="1.94" height="5.50" fill="#d0d0d0"/>
<rect x="396.25" y="396.50" width="1.94" height="5.70" fill="#d0d0d0"/>
<rect x="398.91" y="397.70" width="1.94" height="4.50" fill="#ff00e6"/>
<rect x="401.58" y="394.40" width="1.94" height="7.80" fill="#d0d0d0"/>
<rect x="404.24" y="395.00" width="1.94" height="7.20" fill="#d0d0d0"/>
<rect x="406.90" y="388.90" width="1.94" height="13.30" fill="#1a35b8"/>
<rect x="409.57" y="388.10" width="1.94" height="14.10" fill="#1a35b8"/>
<rect x="412.23" y="392.00" width="1.94" height="10.20" fill="#d0d0d0"/>
<rect x="414.89" y="393.30" width="1.94" height="8.90" fill="#d0d0d0"/>
<rect x="417.56" y="396.30" width="1.94" height="5.90" fill="#d0d0d0"/>
<rect x="420.22" y="396.30" width="1.94" height="5.90" fill="#d0d0d0"/>
<rect x="422.88" y="397.00" width="1.94" height="5.20" fill="#d0d0d0"/>
<rect x="425.54" y="395.00" width="1.94" height="7.20" fill="#d0d0d0"/>
<rect x="428.21" y="397.00" width="1.94" height="5.20" fill="#ff00e6"/>
<rect x="430.87" y="398.00" width="1.94" height="4.20" fill="#ff00e6"/>
<rect x="433.53" y="398.30" width="1.94" height="3.90" fill="#ff00e6"/>
<rect x="436.20" y="398.60" width="1.94" height="3.60" fill="#ff00e6"/>
<rect x="438.86" y="398.90" width="1.94" height="3.30" fill="#ff00e6"/>
<rect x="441.52" y="398.90" width="1.94" height="3.30" fill="#ff00e6"/>
<rect x="444.19" y="398.30" width="1.94" height="3.90" fill="#ff00e6"/>
<rect x="446.85" y="397.30" width="1.94" height="4.90" fill="#ff00e6"/>
<rect x="449.51" y="396.30" width="1.94" height="5.90" fill="#d0d0d0"/>
<rect x="452.17" y="395.70" width="1.94" height="6.50" fill="#d0d0d0"/>
<rect x="454.84" y="398.00" width="1.94" height="4.20" fill="#ff00e6"/>
<rect x="457.50" y="398.30" width="1.94" height="3.90" fill="#ff00e6"/>
<rect x="460.16" y="396.30" width="1.94" height="5.90" fill="#d0d0d0"/>
<rect x="462.83" y="388.90" width="1.94" height="13.30" fill="#1a35b8"/>
<rect x="465.49" y="382.00" width="1.94" height="20.20" fill="#000"/>
<rect x="468.15" y="382.40" width="1.94" height="19.80" fill="#1a35b8"/>
<rect x="470.82" y="386.30" width="1.94" height="15.90" fill="#1a35b8"/>
<rect x="473.48" y="386.30" width="1.94" height="15.90" fill="#1a35b8"/>
<rect x="476.14" y="386.30" width="1.94" height="15.90" fill="#1a35b8"/>
<rect x="478.80" y="389.40" width="1.94" height="12.80" fill="#1a35b8"/>
<rect x="481.47" y="389.40" width="1.94" height="12.80" fill="#1a35b8"/>
<rect x="484.13" y="395.40" width="1.94" height="6.80" fill="#d0d0d0"/>
<rect x="486.79" y="395.95" width="1.94" height="6.25" fill="#d0d0d0"/>
<rect x="489.46" y="397.30" width="1.94" height="4.90" fill="#ff00e6"/>
<rect x="492.12" y="397.40" width="1.94" height="4.80" fill="#ff00e6"/>
<rect x="494.78" y="395.95" width="1.94" height="6.25" fill="#d0d0d0"/>
<rect x="497.45" y="395.95" width="1.94" height="6.25" fill="#d0d0d0"/>
<rect x="500.11" y="393.70" width="1.94" height="8.50" fill="#d0d0d0"/>
<rect x="502.77" y="395.00" width="1.94" height="7.20" fill="#d0d0d0"/>
<rect x="505.43" y="396.70" width="1.94" height="5.50" fill="#d0d0d0"/>
<rect x="508.10" y="395.00" width="1.94" height="7.20" fill="#d0d0d0"/>
<rect x="510.76" y="394.10" width="1.94" height="8.10" fill="#d0d0d0"/>
<rect x="513.42" y="389.80" width="1.94" height="12.40" fill="#1a35b8"/>
<rect x="516.09" y="388.90" width="1.94" height="13.30" fill="#1a35b8"/>
<rect x="518.75" y="388.90" width="1.94" height="13.30" fill="#1a35b8"/>
<rect x="521.41" y="391.80" width="1.94" height="10.40" fill="#d0d0d0"/>
<rect x="524.08" y="397.30" width="1.94" height="4.90" fill="#d0d0d0"/>
<rect x="526.74" y="399.60" width="1.94" height="2.60" fill="#ff00e6"/>
<rect x="529.40" y="398.30" width="1.94" height="3.90" fill="#ff00e6"/>
<rect x="532.06" y="398.30" width="1.94" height="3.90" fill="#ff00e6"/>
<rect x="534.73" y="398.30" width="1.94" height="3.90" fill="#ff00e6"/>
<rect x="537.39" y="398.30" width="1.94" height="3.90" fill="#ff00e6"/>
<rect x="540.05" y="397.30" width="1.94" height="4.90" fill="#d0d0d0"/>
<rect x="542.72" y="396.70" width="1.94" height="5.50" fill="#d0d0d0"/>
<rect x="545.38" y="396.70" width="1.94" height="5.50" fill="#d0d0d0"/>
<rect x="548.04" y="397.00" width="1.94" height="5.20" fill="#d0d0d0"/>
<rect x="550.71" y="395.00" width="1.94" height="7.20" fill="#d0d0d0"/>
<rect x="553.37" y="395.00" width="1.94" height="7.20" fill="#d0d0d0"/>
<rect x="556.03" y="395.70" width="1.94" height="6.50" fill="#d0d0d0"/>
<rect x="558.69" y="396.70" width="1.94" height="5.50" fill="#d0d0d0"/>
<rect x="561.36" y="398.30" width="1.94" height="3.90" fill="#ff00e6"/>
<rect x="564.02" y="398.90" width="1.94" height="3.30" fill="#ff00e6"/>
<rect x="566.68" y="399.30" width="1.94" height="2.90" fill="#ff00e6"/>
<rect x="569.35" y="399.30" width="1.94" height="2.90" fill="#ff00e6"/>
<rect x="572.01" y="397.30" width="1.94" height="4.90" fill="#d0d0d0"/>
<rect x="574.67" y="397.30" width="1.94" height="4.90" fill="#d0d0d0"/>
<rect x="577.34" y="394.60" width="1.94" height="7.60" fill="#d0d0d0"/>
<rect x="580.00" y="397.00" width="1.94" height="5.20" fill="#d0d0d0"/>
<rect x="582.66" y="398.30" width="1.94" height="3.90" fill="#ff00e6"/>
<rect x="585.32" y="398.30" width="1.94" height="3.90" fill="#ff00e6"/>
<rect x="587.99" y="398.60" width="1.94" height="3.60" fill="#ff00e6"/>
<rect x="590.65" y="399.90" width="1.94" height="2.30" fill="#ff00e6"/>
<rect x="593.31" y="399.30" width="1.94" height="2.90" fill="#ff00e6"/>
<rect x="595.98" y="399.90" width="1.94" height="2.30" fill="#ff00e6"/>
<rect x="598.64" y="400.20" width="1.94" height="2.00" fill="#ff00e6"/>
<rect x="601.30" y="400.20" width="1.94" height="2.00" fill="#ff00e6"/>
<rect x="603.97" y="399.90" width="1.94" height="2.30" fill="#ff00e6"/>
<rect x="606.63" y="397.30" width="1.94" height="4.90" fill="#d0d0d0"/>
<rect x="609.29" y="397.30" width="1.94" height="4.90" fill="#d0d0d0"/>
<rect x="611.95" y="391.80" width="1.94" height="10.40" fill="#1a35b8"/>
<rect x="614.62" y="391.80" width="1.94" height="10.40" fill="#1a35b8"/>
<rect x="617.28" y="391.80" width="1.94" height="10.40" fill="#1a35b8"/>
<path d="M29.0,388.4 L84.0,388.4 L91.0,387.1 L112.0,386.5 L137.0,386.5 L147.0,387.5 L155.0,389.0 L181.0,389.1 L186.0,388.4 L204.0,385.2 L221.0,386.2 L234.0,386.2 L236.0,385.2 L249.0,385.2 L252.0,385.8 L260.0,385.8 L263.0,384.5 L272.0,384.5 L275.0,383.2 L279.0,382.3 L327.0,382.3 L330.0,383.6 L347.0,383.6 L350.0,382.3 L367.0,382.3 L371.0,381.3 L389.0,381.3 L392.0,381.5 L440.0,381.5 L443.0,382.3 L453.0,382.3 L456.0,383.2 L461.0,383.2 L471.0,381.9 L507.0,383.2 L510.0,384.1 L521.0,384.1 L523.0,383.2 L529.0,383.2 L531.0,384.1 L543.0,384.1 L545.0,385.2 L556.0,385.2 L558.0,384.9 L577.0,384.9 L580.0,384.1 L585.0,384.1 L587.0,385.2 L598.0,385.2 L601.0,387.1 L605.0,387.1 L607.0,388.4 L619.0,388.4" fill="none" stroke="#333" stroke-width="0.5" stroke-dasharray="1,1.663"/>
<path d="M29.0,394.3 L112.0,393.6 L120.0,393.0 L147.0,393.0 L152.0,395.0 L171.0,395.0 L176.0,394.3 L204.0,394.3 L208.0,392.3 L255.0,392.3 L257.0,391.4 L270.0,391.4 L273.0,390.6 L327.0,390.6 L330.0,391.4 L340.0,391.4 L349.0,390.4 L368.0,390.4 L383.0,389.0 L396.0,389.0 L400.0,390.4 L455.0,390.4 L458.0,391.4 L462.0,391.4 L465.0,390.4 L502.0,390.6 L505.0,391.4 L541.0,391.4 L544.0,392.3 L598.0,392.3 L600.0,393.2 L605.0,393.2 L607.0,394.3 L612.0,394.3" fill="none" stroke="#3f5fd8" stroke-width="0.5" stroke-dasharray="1,1.663"/>
<rect x="751" y="10" width="17" height="400" fill="#000"/>
<rect x="767.2" y="0" width="0.8" height="410" fill="#3a3a3a"/>
<text transform="translate(753.20,14.75) scale(0.6972,1)" font-size="4.9" fill="#ffffff" font-weight="bold" stroke="#ffffff" stroke-width="0.1">155</text>
<rect x="751" y="12.80" width="0.8" height="0.4" fill="#666"/>
<text transform="translate(753.20,25.95) scale(0.6972,1)" font-size="4.9" fill="#ffffff" font-weight="bold" stroke="#ffffff" stroke-width="0.1">150</text>
<rect x="751" y="24.00" width="0.8" height="0.4" fill="#666"/>
<text transform="translate(753.20,40.35) scale(0.6972,1)" font-size="4.9" fill="#ffffff" font-weight="bold" stroke="#ffffff" stroke-width="0.1">145</text>
<rect x="751" y="38.40" width="0.8" height="0.4" fill="#666"/>
<text transform="translate(753.20,54.75) scale(0.6972,1)" font-size="4.9" fill="#ffffff" font-weight="bold" stroke="#ffffff" stroke-width="0.1">140</text>
<rect x="751" y="52.80" width="0.8" height="0.4" fill="#666"/>
<text transform="translate(753.20,69.75) scale(0.6972,1)" font-size="4.9" fill="#ffffff" font-weight="bold" stroke="#ffffff" stroke-width="0.1">135</text>
<rect x="751" y="67.80" width="0.8" height="0.4" fill="#666"/>
<text transform="translate(753.20,85.55) scale(0.6972,1)" font-size="4.9" fill="#ffffff" font-weight="bold" stroke="#ffffff" stroke-width="0.1">130</text>
<rect x="751" y="83.60" width="0.8" height="0.4" fill="#666"/>
<text transform="translate(753.20,101.55) scale(0.6972,1)" font-size="4.9" fill="#ffffff" font-weight="bold" stroke="#ffffff" stroke-width="0.1">125</text>
<rect x="751" y="99.60" width="0.8" height="0.4" fill="#666"/>
<text transform="translate(753.20,118.35) scale(0.6972,1)" font-size="4.9" fill="#ffffff" font-weight="bold" stroke="#ffffff" stroke-width="0.1">120</text>
<rect x="751" y="116.40" width="0.8" height="0.4" fill="#666"/>
<text transform="translate(753.20,135.95) scale(0.7210,1)" font-size="4.9" fill="#ffffff" font-weight="bold" stroke="#ffffff" stroke-width="0.1">115</text>
<rect x="751" y="134.00" width="0.8" height="0.4" fill="#666"/>
<text transform="translate(753.20,154.55) scale(0.7210,1)" font-size="4.9" fill="#ffffff" font-weight="bold" stroke="#ffffff" stroke-width="0.1">110</text>
<rect x="751" y="152.60" width="0.8" height="0.4" fill="#666"/>
<text transform="translate(753.20,173.35) scale(0.6972,1)" font-size="4.9" fill="#ffffff" font-weight="bold" stroke="#ffffff" stroke-width="0.1">105</text>
<rect x="751" y="171.40" width="0.8" height="0.4" fill="#666"/>
<text transform="translate(753.20,194.05) scale(0.6972,1)" font-size="4.9" fill="#ffffff" font-weight="bold" stroke="#ffffff" stroke-width="0.1">100</text>
<rect x="751" y="192.10" width="0.8" height="0.4" fill="#666"/>
<text transform="translate(753.20,214.75) scale(0.7155,1)" font-size="4.9" fill="#ffffff" font-weight="bold" stroke="#ffffff" stroke-width="0.1">95</text>
<rect x="751" y="212.80" width="0.8" height="0.4" fill="#666"/>
<text transform="translate(753.20,237.35) scale(0.7155,1)" font-size="4.9" fill="#ffffff" font-weight="bold" stroke="#ffffff" stroke-width="0.1">90</text>
<rect x="751" y="235.40" width="0.8" height="0.4" fill="#666"/>
<text transform="translate(753.20,260.45) scale(0.7155,1)" font-size="4.9" fill="#ffffff" font-weight="bold" stroke="#ffffff" stroke-width="0.1">85</text>
<rect x="751" y="258.50" width="0.8" height="0.4" fill="#666"/>
<text transform="translate(753.20,285.55) scale(0.7155,1)" font-size="4.9" fill="#ffffff" font-weight="bold" stroke="#ffffff" stroke-width="0.1">80</text>
<rect x="751" y="283.60" width="0.8" height="0.4" fill="#666"/>
<text transform="translate(753.20,311.85) scale(0.7155,1)" font-size="4.9" fill="#ffffff" font-weight="bold" stroke="#ffffff" stroke-width="0.1">75</text>
<rect x="751" y="309.90" width="0.8" height="0.4" fill="#666"/>
<text transform="translate(753.20,340.45) scale(0.7155,1)" font-size="4.9" fill="#ffffff" font-weight="bold" stroke="#ffffff" stroke-width="0.1">70</text>
<rect x="751" y="338.50" width="0.8" height="0.4" fill="#666"/>
<rect x="752.3" y="173.1" width="12.4" height="5.2" fill="#fff"/>
<text transform="translate(752.90,177.50) scale(0.7323,1)" font-size="5.0" fill="#f01010" font-weight="bold" stroke="#f01010" stroke-width="0.12">103.92</text>
<rect x="752.3" y="178.8" width="12.7" height="5.6" fill="#f2c200"/>
<text transform="translate(752.90,183.40) scale(0.7454,1)" font-size="5.0" fill="#000" font-weight="bold" stroke="#000" stroke-width="0.12">102.57</text>
<rect x="752.3" y="185.8" width="15.7" height="5.2" fill="#c9c9c9"/>
<text transform="translate(752.70,190.10) scale(0.7822,1)" font-size="4.6" fill="#111" font-weight="bold">20h:36m</text>
<rect x="750.6" y="176.2" width="1" height="0.8" fill="#e00"/>
<rect x="750.6" y="184.0" width="1" height="0.8" fill="#24c"/>
<text transform="translate(753.00,356.40) scale(0.7860,1)" font-size="5.0" fill="#f2f2f2">6.000k</text>
<text transform="translate(753.00,361.60) scale(0.7860,1)" font-size="5.0" fill="#e0e0e0">4.000k</text>
<rect x="752.3" y="362.4" width="12.6" height="4.6" fill="#fff"/>
<text transform="translate(752.80,366.40) scale(0.7765,1)" font-size="4.8" fill="#2038c8" font-weight="bold">2.237k</text>
<rect x="752.3" y="367.8" width="12.6" height="4.8" fill="#fff"/>
<text transform="translate(752.80,371.90) scale(0.7765,1)" font-size="4.8" fill="#ff8c1a" font-weight="bold">1.456k</text>
<rect x="750.8" y="364.4" width="0.6" height="0.5" fill="#24c"/>
<rect x="750.8" y="370.0" width="0.6" height="0.5" fill="#f80"/>
<text transform="translate(753.00,379.30) scale(0.7552,1)" font-size="5.0" fill="#f2f2f2">20</text>
<text transform="translate(753.00,385.00) scale(0.7192,1)" font-size="5.0" fill="#f2f2f2">15</text>
<rect x="752.3" y="384.9" width="12.6" height="4.6" fill="#fff"/>
<text transform="translate(752.80,388.90) scale(0.7907,1)" font-size="4.8" fill="#111" font-weight="bold">11.319</text>
<text transform="translate(753.00,393.00) scale(0.8599,1)" font-size="4.6" fill="#4a6cf0">9</text>
<rect x="752.3" y="393.6" width="12.6" height="4.8" fill="#fff"/>
<text transform="translate(752.80,397.70) scale(0.7907,1)" font-size="4.8" fill="#2038c8" font-weight="bold">7.0110</text>
<rect x="750.8" y="391.0" width="0.6" height="0.5" fill="#24c"/>
<rect x="0" y="402.2" width="768" height="7.8" fill="#000"/>
<text transform="translate(22.05,408.30) scale(0.7731,1)" font-size="5.0" fill="#ffffff" font-weight="bold" stroke="#ffffff" stroke-width="0.08">07</text>
<text transform="translate(35.45,408.30) scale(0.7731,1)" font-size="5.0" fill="#ffffff" font-weight="bold" stroke="#ffffff" stroke-width="0.08">14</text>
<text transform="translate(48.75,408.30) scale(0.7731,1)" font-size="5.0" fill="#ffffff" font-weight="bold" stroke="#ffffff" stroke-width="0.08">21</text>
<text transform="translate(62.05,408.30) scale(0.7731,1)" font-size="5.0" fill="#ffffff" font-weight="bold" stroke="#ffffff" stroke-width="0.08">28</text>
<text transform="translate(69.40,408.30) scale(0.8856,1)" font-size="5.0" fill="#ffffff" font-weight="bold" stroke="#ffffff" stroke-width="0.08">set</text>
<text transform="translate(89.05,408.30) scale(0.7731,1)" font-size="5.0" fill="#ffffff" font-weight="bold" stroke="#ffffff" stroke-width="0.08">12</text>
<text transform="translate(102.25,408.30) scale(0.7731,1)" font-size="5.0" fill="#ffffff" font-weight="bold" stroke="#ffffff" stroke-width="0.08">19</text>
<text transform="translate(115.55,408.30) scale(0.7731,1)" font-size="5.0" fill="#ffffff" font-weight="bold" stroke="#ffffff" stroke-width="0.08">26</text>
<text transform="translate(122.00,408.30) scale(1.0024,1)" font-size="5.0" fill="#ffffff" font-weight="bold" stroke="#ffffff" stroke-width="0.08">ott</text>
<text transform="translate(142.15,408.30) scale(0.7731,1)" font-size="5.0" fill="#ffffff" font-weight="bold" stroke="#ffffff" stroke-width="0.08">10</text>
<text transform="translate(155.45,408.30) scale(0.7731,1)" font-size="5.0" fill="#ffffff" font-weight="bold" stroke="#ffffff" stroke-width="0.08">17</text>
<text transform="translate(168.75,408.30) scale(0.7731,1)" font-size="5.0" fill="#ffffff" font-weight="bold" stroke="#ffffff" stroke-width="0.08">24</text>
<text transform="translate(183.20,408.30) scale(0.7200,1)" font-size="5.0" fill="#ffffff" font-weight="bold" stroke="#ffffff" stroke-width="0.08">nov</text>
<text transform="translate(194.95,408.30) scale(0.7731,1)" font-size="5.0" fill="#ffffff" font-weight="bold" stroke="#ffffff" stroke-width="0.08">07</text>
<text transform="translate(208.45,408.30) scale(0.7731,1)" font-size="5.0" fill="#ffffff" font-weight="bold" stroke="#ffffff" stroke-width="0.08">14</text>
<text transform="translate(221.85,408.30) scale(0.7731,1)" font-size="5.0" fill="#ffffff" font-weight="bold" stroke="#ffffff" stroke-width="0.08">21</text>
<text transform="translate(236.80,408.30) scale(0.8859,1)" font-size="5.0" fill="#ffffff" font-weight="bold" stroke="#ffffff" stroke-width="0.08">dic</text>
<text transform="translate(248.85,408.30) scale(0.7731,1)" font-size="5.0" fill="#ffffff" font-weight="bold" stroke="#ffffff" stroke-width="0.08">06</text>
<text transform="translate(262.15,408.30) scale(0.7731,1)" font-size="5.0" fill="#ffffff" font-weight="bold" stroke="#ffffff" stroke-width="0.08">13</text>
<text transform="translate(275.45,408.30) scale(0.7731,1)" font-size="5.0" fill="#ffffff" font-weight="bold" stroke="#ffffff" stroke-width="0.08">20</text>
<text transform="translate(291.90,408.30) scale(0.7731,1)" font-size="5.0" fill="#ffffff" font-weight="bold" stroke="#ffffff" stroke-width="0.08">2025</text>
<text transform="translate(315.45,408.30) scale(0.7731,1)" font-size="5.0" fill="#ffffff" font-weight="bold" stroke="#ffffff" stroke-width="0.08">15</text>
<text transform="translate(328.75,408.30) scale(0.7731,1)" font-size="5.0" fill="#ffffff" font-weight="bold" stroke="#ffffff" stroke-width="0.08">23</text>
<text transform="translate(346.40,408.30) scale(0.8533,1)" font-size="5.0" fill="#ffffff" font-weight="bold" stroke="#ffffff" stroke-width="0.08">feb</text>
<text transform="translate(355.05,408.30) scale(0.7731,1)" font-size="5.0" fill="#ffffff" font-weight="bold" stroke="#ffffff" stroke-width="0.08">06</text>
<text transform="translate(368.55,408.30) scale(0.7731,1)" font-size="5.0" fill="#ffffff" font-weight="bold" stroke="#ffffff" stroke-width="0.08">13</text>
<text transform="translate(381.85,408.30) scale(0.7731,1)" font-size="5.0" fill="#ffffff" font-weight="bold" stroke="#ffffff" stroke-width="0.08">21</text>
<text transform="translate(396.80,408.30) scale(0.6978,1)" font-size="5.0" fill="#ffffff" font-weight="bold" stroke="#ffffff" stroke-width="0.08">mar</text>
<text transform="translate(408.65,408.30) scale(0.7731,1)" font-size="5.0" fill="#ffffff" font-weight="bold" stroke="#ffffff" stroke-width="0.08">07</text>
<text transform="translate(421.85,408.30) scale(0.7731,1)" font-size="5.0" fill="#ffffff" font-weight="bold" stroke="#ffffff" stroke-width="0.08">14</text>
<text transform="translate(435.15,408.30) scale(0.7731,1)" font-size="5.0" fill="#ffffff" font-weight="bold" stroke="#ffffff" stroke-width="0.08">21</text>
<text transform="translate(452.80,408.30) scale(0.8225,1)" font-size="5.0" fill="#ffffff" font-weight="bold" stroke="#ffffff" stroke-width="0.08">apr</text>
<text transform="translate(461.85,408.30) scale(0.7731,1)" font-size="5.0" fill="#ffffff" font-weight="bold" stroke="#ffffff" stroke-width="0.08">04</text>
<text transform="translate(474.95,408.30) scale(0.8135,1)" font-size="5.0" fill="#ffffff" font-weight="bold" stroke="#ffffff" stroke-width="0.08">11</text>
<text transform="translate(488.45,408.30) scale(0.7731,1)" font-size="5.0" fill="#ffffff" font-weight="bold" stroke="#ffffff" stroke-width="0.08">21</text>
<text transform="translate(501.95,408.30) scale(0.7731,1)" font-size="5.0" fill="#ffffff" font-weight="bold" stroke="#ffffff" stroke-width="0.08">28</text>
<text transform="translate(508.70,408.30) scale(0.6225,1)" font-size="5.0" fill="#ffffff" font-weight="bold" stroke="#ffffff" stroke-width="0.08">mag</text>
<text transform="translate(528.65,408.30) scale(0.7731,1)" font-size="5.0" fill="#ffffff" font-weight="bold" stroke="#ffffff" stroke-width="0.08">12</text>
<text transform="translate(541.85,408.30) scale(0.7731,1)" font-size="5.0" fill="#ffffff" font-weight="bold" stroke="#ffffff" stroke-width="0.08">19</text>
<text transform="translate(554.95,408.30) scale(0.7731,1)" font-size="5.0" fill="#ffffff" font-weight="bold" stroke="#ffffff" stroke-width="0.08">27</text>
<text transform="translate(565.00,408.30) scale(0.8536,1)" font-size="5.0" fill="#ffffff" font-weight="bold" stroke="#ffffff" stroke-width="0.08">giu</text>
<text transform="translate(581.85,408.30) scale(0.7731,1)" font-size="5.0" fill="#ffffff" font-weight="bold" stroke="#ffffff" stroke-width="0.08">10</text>
<text transform="translate(595.05,408.30) scale(0.7731,1)" font-size="5.0" fill="#ffffff" font-weight="bold" stroke="#ffffff" stroke-width="0.08">17</text>
<text transform="translate(608.25,408.30) scale(0.7731,1)" font-size="5.0" fill="#ffffff" font-weight="bold" stroke="#ffffff" stroke-width="0.08">25</text>
<text transform="translate(617.50,408.30) scale(0.8536,1)" font-size="5.0" fill="#ffffff" font-weight="bold" stroke="#ffffff" stroke-width="0.08">lug</text>
<text transform="translate(634.85,408.30) scale(0.7731,1)" font-size="5.0" fill="#ffffff" font-weight="bold" stroke="#ffffff" stroke-width="0.08">10</text>
<text transform="translate(648.25,408.30) scale(0.7731,1)" font-size="5.0" fill="#ffffff" font-weight="bold" stroke="#ffffff" stroke-width="0.08">17</text>
<text transform="translate(661.45,408.30) scale(0.7731,1)" font-size="5.0" fill="#ffffff" font-weight="bold" stroke="#ffffff" stroke-width="0.08">24</text>
<text transform="translate(676.40,408.30) scale(0.7200,1)" font-size="5.0" fill="#ffffff" font-weight="bold" stroke="#ffffff" stroke-width="0.08">ago</text>
<text transform="translate(688.35,408.30) scale(0.7731,1)" font-size="5.0" fill="#ffffff" font-weight="bold" stroke="#ffffff" stroke-width="0.08">07</text>
<text transform="translate(701.75,408.30) scale(0.7731,1)" font-size="5.0" fill="#ffffff" font-weight="bold" stroke="#ffffff" stroke-width="0.08">14</text>
<text transform="translate(714.85,408.30) scale(0.7731,1)" font-size="5.0" fill="#ffffff" font-weight="bold" stroke="#ffffff" stroke-width="0.08">21</text>
<text transform="translate(732.50,408.30) scale(0.8856,1)" font-size="5.0" fill="#ffffff" font-weight="bold" stroke="#ffffff" stroke-width="0.08">set</text>
<text transform="translate(741.35,408.30) scale(0.7731,1)" font-size="5.0" fill="#ffffff" font-weight="bold" stroke="#ffffff" stroke-width="0.08">05</text>
<rect x="0" y="10" width="12" height="400" fill="#000"/>
<rect x="0" y="0" width="0.9" height="410" fill="#4a4a4a"/>
<path d="M2.6,18.6 L4.2,16.2 L8.6,12.4 L10,13.8 L5.4,17.8 Z" fill="none" stroke="#0c9a0c" stroke-width="0.9"/>
<path d="M2.4,19 L4.2,16.2 L5.6,17.8 Z" fill="#0c9a0c"/><path d="M2.4,19.1 H10.2" stroke="#0c9a0c" stroke-width="0.9"/>
<rect x="1.3" y="21.3" width="9.4" height="9.4" fill="#4b4b4b" stroke="#6a6a6a" stroke-width="0.5"/>
<path d="M4.4,22.8 L4.4,28.6 L5.7,27.4 L6.8,29.6 L7.7,29.2 L6.7,27.1 L8.4,27 Z" fill="#e8e8e8"/>
<path d="M2.2,38.2 L8.8,32.4 L10.3,34 L3.8,39.9 Z" fill="#063806" stroke="#0a6e0a" stroke-width="0.6" stroke-dasharray="1,0.5"/>
<path d="M3,44.4 H8.6" stroke="#2a3fa8" stroke-width="0.9"/><path d="M3,45.9 H8.6" stroke="#e07a20" stroke-width="0.9"/><path d="M3,47.4 H8.6" stroke="#a83a20" stroke-width="0.9"/><path d="M3,48.8 H8.0" stroke="#e0a060" stroke-width="0.8"/>
<path d="M8.4,46.6 H10.8 L9.9,48 V49.8 L9.3,49.4 V48 Z" fill="#2aa8e8"/>
<circle cx="4.7" cy="55.6" r="1.9" fill="none" stroke="#d8d8d8" stroke-width="0.7"/><path d="M6.1,57.1 L8.6,59.6" stroke="#d8d8d8" stroke-width="0.9"/>
<path d="M3.2,69.4 C4.2,68.6 3.6,64.3 5.9,64.3 C8.2,64.3 7.6,68.6 8.6,69.4 Z" fill="#f0f0f0"/><circle cx="5.9" cy="70" r="0.7" fill="#f0f0f0"/><path d="M2.6,65 L3.4,65.8 M9.2,65 L8.4,65.8" stroke="#999" stroke-width="0.4"/>
<path d="M6,72.8 L7.5,74.9 H4.5 Z M6,81 L7.5,78.9 H4.5 Z M1.9,76.9 L4,75.4 V78.4 Z M10.1,76.9 L8,75.4 V78.4 Z" fill="#35b4f2"/><rect x="5" y="75.9" width="2" height="2" fill="#a8a8a8"/>
<rect x="2.4" y="84.3" width="7.1" height="6.2" rx="0.8" fill="#031803" stroke="#0c9a0c" stroke-width="0.6"/><path d="M4.6,86 H7.4 M6,86 V89.2 M5.2,89.2 H6.8" stroke="#d0d0d0" stroke-width="0.7" fill="none"/>
<rect x="2.8" y="94.2" width="4.6" height="5.4" rx="0.8" fill="#4a525c" stroke="#707a86" stroke-width="0.5"/><rect x="4.4" y="96.0" width="5.0" height="5.8" rx="0.8" fill="#5a6470" stroke="#8a949f" stroke-width="0.5"/><circle cx="6.9" cy="98.9" r="1.5" fill="#424a54"/>
<path d="M3.4,105.4 L8.8,111.4 M8.6,105.4 L3.2,111.4" stroke="#e4e4e4" stroke-width="0.8"/><circle cx="3.3" cy="105.5" r="1.0" fill="#e8e8e8"/><circle cx="8.7" cy="105.5" r="1.0" fill="#e8e8e8"/><rect x="2.6" y="110.4" width="1.6" height="1.6" fill="#d8d8d8" transform="rotate(45 3.4 111.2)"/><rect x="7.8" y="110.4" width="1.6" height="1.6" fill="#d8d8d8" transform="rotate(45 8.6 111.2)"/>
<path d="M3.4,116.4 H8.6 L8.2,121.2 H3.8 Z" fill="#8c8c8c"/><path d="M3,115.8 H9" stroke="#a8a8a8" stroke-width="0.8"/><path d="M5,115.2 H7" stroke="#a8a8a8" stroke-width="0.6"/><path d="M5,117.3 V120.4 M7,117.3 V120.4" stroke="#555" stroke-width="0.4"/>
<path d="M1.5,132.4 L10.4,123.9" stroke="#0a6e0a" stroke-width="0.7"/>
<path d="M3.4,140.8 L8.5,136.5" stroke="#0c9a0c" stroke-width="0.8"/><circle cx="3.4" cy="140.8" r="0.9" fill="#0a6e0a"/><circle cx="8.5" cy="136.5" r="0.9" fill="#0a6e0a"/>
<path d="M3.4,151.2 L8.2,146.4" stroke="#0c9a0c" stroke-width="0.8"/><path d="M8.9,145.6 L8.4,148 L6.6,146.2 Z" fill="#0c9a0c"/><circle cx="3.4" cy="151.2" r="0.8" fill="#0a6e0a"/>
<path d="M3,154.2 H10" stroke="#e01818" stroke-width="0.8"/><path d="M2.4,159.8 L9,155.6" stroke="#2aa8e8" stroke-width="0.8" stroke-dasharray="1.2,0.7"/><path d="M1.5,160.4 H5.4" stroke="#18c018" stroke-width="0.8"/><circle cx="8" cy="161" r="2.2" fill="#e8e8e8"/><rect x="7" y="160.1" width="2" height="1.8" fill="#666"/>
<rect x="1.2" y="164.4" width="9.5" height="9.3" fill="#454545" stroke="#686868" stroke-width="0.5"/>
<path d="M3.6,172 V169.2 A2.4,2.4 0 0 1 8.4,169.2 V172" fill="none" stroke="#e02020" stroke-width="1.5"/><path d="M2.85,171.4 H4.35 M7.65,171.4 H9.15" stroke="#e8e8e8" stroke-width="1"/>
<path d="M1.6,182.6 L5.4,176.6 L7.4,181.2 L8.6,178.8 L10,182.6" fill="none" stroke="#0c9a0c" stroke-width="0.7"/>
<circle cx="5.4" cy="176.6" r="0.8" fill="#2aa8e8"/>
<circle cx="3.2" cy="179.6" r="0.8" fill="#2aa8e8"/>
<circle cx="8.6" cy="178.8" r="0.8" fill="#2aa8e8"/>
<circle cx="7.4" cy="181.6" r="0.8" fill="#2aa8e8"/>
<circle cx="4.6" cy="181.6" r="0.8" fill="#2aa8e8"/>
<path d="M1.5,189.5 H10.5" stroke="#0a6e0a" stroke-width="0.8"/>
<path d="M6,193.4 H10.4" stroke="#063806" stroke-width="0.5" stroke-dasharray="0.8,0.6"/>
<path d="M5.4,199.3 H10.5" stroke="#0c9a0c" stroke-width="0.8"/><circle cx="5" cy="199.3" r="0.9" fill="none" stroke="#0c9a0c" stroke-width="0.5"/>
<path d="M4.27,206.10 A4.0,4.0 0 0 1 7.33,206.10 L6.37,208.41 A1.5,1.5 0 0 0 5.23,208.41 Z" fill="#f0e000"/>
<path d="M7.33,206.10 A4.0,4.0 0 0 1 9.50,208.27 L7.19,209.23 A1.5,1.5 0 0 0 6.37,208.41 Z" fill="#ff8a00"/>
<path d="M9.50,208.27 A4.0,4.0 0 0 1 9.50,211.33 L7.19,210.37 A1.5,1.5 0 0 0 7.19,209.23 Z" fill="#ff2020"/>
<path d="M9.50,211.33 A4.0,4.0 0 0 1 7.33,213.50 L6.37,211.19 A1.5,1.5 0 0 0 7.19,210.37 Z" fill="#e020c0"/>
<path d="M7.33,213.50 A4.0,4.0 0 0 1 4.27,213.50 L5.23,211.19 A1.5,1.5 0 0 0 6.37,211.19 Z" fill="#6020f0"/>
<path d="M4.27,213.50 A4.0,4.0 0 0 1 2.10,211.33 L4.41,210.37 A1.5,1.5 0 0 0 5.23,211.19 Z" fill="#2060ff"/>
<path d="M2.10,211.33 A4.0,4.0 0 0 1 2.10,208.27 L4.41,209.23 A1.5,1.5 0 0 0 4.41,210.37 Z" fill="#00c0b0"/>
<path d="M2.10,208.27 A4.0,4.0 0 0 1 4.27,206.10 L5.23,208.41 A1.5,1.5 0 0 0 4.41,209.23 Z" fill="#20d020"/>
<circle cx="8.1" cy="212" r="1.5" fill="#10a010"/>
<path d="M1.5,224.4 L10.4,216" stroke="#0c9a0c" stroke-width="0.8"/>
<rect x="1.5" y="228.3" width="8.8" height="3.9" fill="#042a04"/><path d="M1.5,228.3 H10.3 M1.5,232.2 H10.3" stroke="#0a6e0a" stroke-width="0.6"/><circle cx="9" cy="228.3" r="0.9" fill="#2aa8e8"/><circle cx="3.3" cy="232.2" r="0.9" fill="#2aa8e8"/>
<rect x="3.2" y="238.4" width="5.6" height="4.2" fill="#042a04" stroke="#0c9a0c" stroke-width="0.6"/><circle cx="8.8" cy="238.4" r="0.9" fill="#2aa8e8"/><circle cx="3.2" cy="242.6" r="0.9" fill="#2aa8e8"/>
<path d="M1.5,250.6 H10.5" stroke="#0a6e0a" stroke-width="0.9"/>
<path d="M6,254.5 H10.4" stroke="#063806" stroke-width="0.5" stroke-dasharray="0.8,0.6"/>
<path d="M5.5,258 L8.7,260.5 L3.2,263.3 Z" fill="#032003" stroke="#0a6e0a" stroke-width="0.5"/>
<circle cx="5.5" cy="258" r="0.85" fill="#2aa8e8"/>
<circle cx="8.7" cy="260.5" r="0.85" fill="#2aa8e8"/>
<circle cx="3.2" cy="263.3" r="0.85" fill="#2aa8e8"/>
<path d="M1,385.4 H12" stroke="#2e2e2e" stroke-width="0.6"/>
<rect x="3.6" y="388.2" width="4.6" height="6" rx="0.5" fill="#4a5f78"/><rect x="4.4" y="391.4" width="2.4" height="1.6" fill="#186a3a"/><path d="M6.4,391 L9.6,394.6 M7.2,394.8 H10" stroke="#cfcfcf" stroke-width="0.6"/><rect x="6" y="390" width="0.9" height="0.9" fill="#d02020"/>
<circle cx="3.7" cy="388.6" r="1.8" fill="#18b018"/>
<text transform="translate(2.80,406.20) scale(1.0964,1)" font-size="5" fill="#e8e8e8" font-weight="bold">***</text>
<path d="M7.8,406.8 H9.4 L8.6,407.8 Z" fill="#ddd"/>
<rect x="0" y="0" width="768" height="10.0" fill="url(#tb)"/>
<rect x="0" y="9.4" width="768" height="0.6" fill="#242424"/>
<path d="M2.6,3.2 L6.2,6.6 M6.2,3.2 L2.6,6.6" stroke="#a2a2a2" stroke-width="0.9"/><path d="M8.4,6.5 H12" stroke="#a2a2a2" stroke-width="0.9"/>
<rect x="14.4" y="4.2" width="2.8" height="2.2" rx="0.5" fill="none" stroke="#808080" stroke-width="0.55"/><rect x="15.8" y="3.2" width="2.8" height="2.2" rx="0.5" fill="none" stroke="#808080" stroke-width="0.55"/>
<path d="M259.3,7.8 V4.6 M261.6,6.8 V3 M263.9,5.4 V1.6" stroke="#35c235" stroke-width="1.1"/>
<rect x="268.1" y="1.6" width="2.9" height="3.2" rx="0.8" fill="#8d8d8d"/><rect x="267.6" y="4.2" width="3.9" height="2.4" rx="0.6" fill="#7a7a7a"/><path d="M268.2,7.4 L269.4,8.6 L271.4,6.6" stroke="#2a9df4" stroke-width="0.9" fill="none"/>
<rect x="265.7" y="0.6" width="0.5" height="8.8" fill="#262626"/><rect x="266.2" y="0.6" width="0.4" height="8.8" fill="#545454"/>
<text transform="translate(274.10,7.10) scale(0.6795,1)" font-size="5.7" fill="#f0f0f0" font-weight="bold">IRM</text>
<path d="M282.8,4.0 H285.6 L284.2,5.6 Z" fill="#bdbdbd"/>
<rect x="286.9" y="0.6" width="0.5" height="8.8" fill="#262626"/><rect x="287.4" y="0.6" width="0.4" height="8.8" fill="#545454"/>
<text transform="translate(289.00,7.10) scale(0.7288,1)" font-size="5.7" fill="#f0f0f0" font-weight="bold">D</text>
<path d="M293.4,4.3 L294.6,5.6 L295.8,4.3" stroke="#e6e6e6" stroke-width="0.75" fill="none"/>
<rect x="297.7" y="0.6" width="0.5" height="8.8" fill="#262626"/><rect x="298.2" y="0.6" width="0.4" height="8.8" fill="#545454"/>
<rect x="299.0" y="1.6" width="8.6" height="7" rx="0.8" fill="#333" stroke="#5a5a5a" stroke-width="0.4"/>
<text transform="translate(299.90,7.10) scale(0.6503,1)" font-size="5.7" fill="#f0f0f0" font-weight="bold">25U</text>
<rect x="308.8" y="1.6" width="8.4" height="7" rx="0.8" fill="#333" stroke="#5a5a5a" stroke-width="0.4"/>
<text transform="translate(309.70,7.10) scale(0.6312,1)" font-size="5.7" fill="#f0f0f0" font-weight="bold">50U</text>
<rect x="318.2" y="1.6" width="10.6" height="7" rx="0.8" fill="#333" stroke="#5a5a5a" stroke-width="0.4"/>
<text transform="translate(319.10,7.10) scale(0.6458,1)" font-size="5.7" fill="#f0f0f0" font-weight="bold">500U</text>
<rect x="329.7" y="1.6" width="14.0" height="7" rx="0.8" fill="#333" stroke="#5a5a5a" stroke-width="0.4"/>
<text transform="translate(330.70,7.10) scale(0.6529,1)" font-size="5.7" fill="#f0f0f0" font-weight="bold">2.500U</text>
<rect x="344.5" y="0.6" width="0.5" height="8.8" fill="#262626"/><rect x="345.0" y="0.6" width="0.4" height="8.8" fill="#545454"/>
<text transform="translate(346.80,7.10) scale(0.6898,1)" font-size="5.7" fill="#f0f0f0" font-weight="bold">100U</text>
<path d="M357.8,4.3 L359.0,5.6 L360.2,4.3" stroke="#e6e6e6" stroke-width="0.75" fill="none"/>
<rect x="361.2" y="0.6" width="0.5" height="8.8" fill="#262626"/><rect x="361.7" y="0.6" width="0.4" height="8.8" fill="#545454"/>
<path d="M363.4,5.2 L365,2.2 L366.6,4.4 L368.2,3.4 L369.6,6 L371.4,2.8" stroke="#28c828" stroke-width="0.7" fill="none"/><path d="M363.6,3.6 L365.6,4.6 L367.4,3 L369.2,4.8 L371.2,4.2" stroke="#e03030" stroke-width="0.6" fill="none"/><rect x="363.4" y="6.8" width="8" height="1.6" fill="#1fae1f"/><rect x="366.8" y="6.8" width="1.4" height="1.6" fill="#d03030"/>
<path d="M374.6,4.3 L375.8,5.6 L377.0,4.3" stroke="#e6e6e6" stroke-width="0.75" fill="none"/>
<rect x="378.4" y="0.6" width="0.5" height="8.8" fill="#262626"/><rect x="378.9" y="0.6" width="0.4" height="8.8" fill="#545454"/>
<rect x="382" y="2.2" width="2.4" height="5.2" rx="0.4" fill="#5c5c66"/><path d="M382.5,3.4 H383.9 M382.5,4.6 H383.9" stroke="#8a8a94" stroke-width="0.4"/>
<text transform="translate(388.10,7.10) scale(0.6649,1)" font-size="5.7" fill="#e2e2e2" font-weight="bold">IRON MOUNTAIN INC.</text>
<text transform="translate(430.00,7.10) scale(0.6309,1)" font-size="5.7" fill="#3ad63a" font-weight="bold">102.57</text>
<rect x="442.2" y="1.9" width="14.7" height="6.0" fill="#3fb63f"/>
<text transform="translate(443.00,7.10) scale(0.7446,1)" font-size="5.7" fill="#fff" font-weight="bold">+0.26$</text>
<path d="M460.4,3.4 V6.8" stroke="#fff" stroke-width="0.9" fill="none"/><path d="M458.7,4.9 L460.4,2.9 L462.1,4.9 Z" fill="#fff"/>
<text transform="translate(464.00,7.10) scale(0.6596,1)" font-size="5.7" fill="#f0f0f0" font-weight="bold">102.65</text>
<path d="M479.5,3.0 V6.4" stroke="#fff" stroke-width="0.9" fill="none"/><path d="M477.8,4.9 L479.5,6.9 L481.2,4.9 Z" fill="#fff"/>
<text transform="translate(483.10,7.10) scale(0.6596,1)" font-size="5.7" fill="#f0f0f0" font-weight="bold">100.68</text>
<path d="M496.9,7 V6 M498,7 V4.8 M499.1,7 V3.4" stroke="#ddd" stroke-width="0.7"/>
<text transform="translate(501.60,7.10) scale(0.6826,1)" font-size="5.7" fill="#f0f0f0" font-weight="bold">2.237k</text>
<circle cx="517.5" cy="4.8" r="1.6" fill="#f2a900"/>
<rect x="757.9" y="0" width="0.5" height="9.6" fill="#585858"/>
<path d="M760.6,6.4 A2.5,2.5 0 0 1 762.6,2.3" stroke="#ff5252" stroke-width="1.3" fill="none"/><path d="M765.6,3.6 A2.5,2.5 0 0 1 763.2,8.0" stroke="#22cc22" stroke-width="1.3" fill="none"/><circle cx="760.6" cy="4.6" r="1.0" fill="#ff6a6a"/><circle cx="765.5" cy="5.4" r="1.0" fill="#22cc22"/>
<rect x="761.6" y="404.8" width="4" height="4.2" fill="#2b3b58"/><path d="M762,407.8 H765.2" stroke="#9fb4e0" stroke-width="0.5" stroke-dasharray="0.6,0.4"/><rect x="763.2" y="404" width="0.8" height="1.6" fill="#2aa8e8"/>
</svg>
</body></html>
